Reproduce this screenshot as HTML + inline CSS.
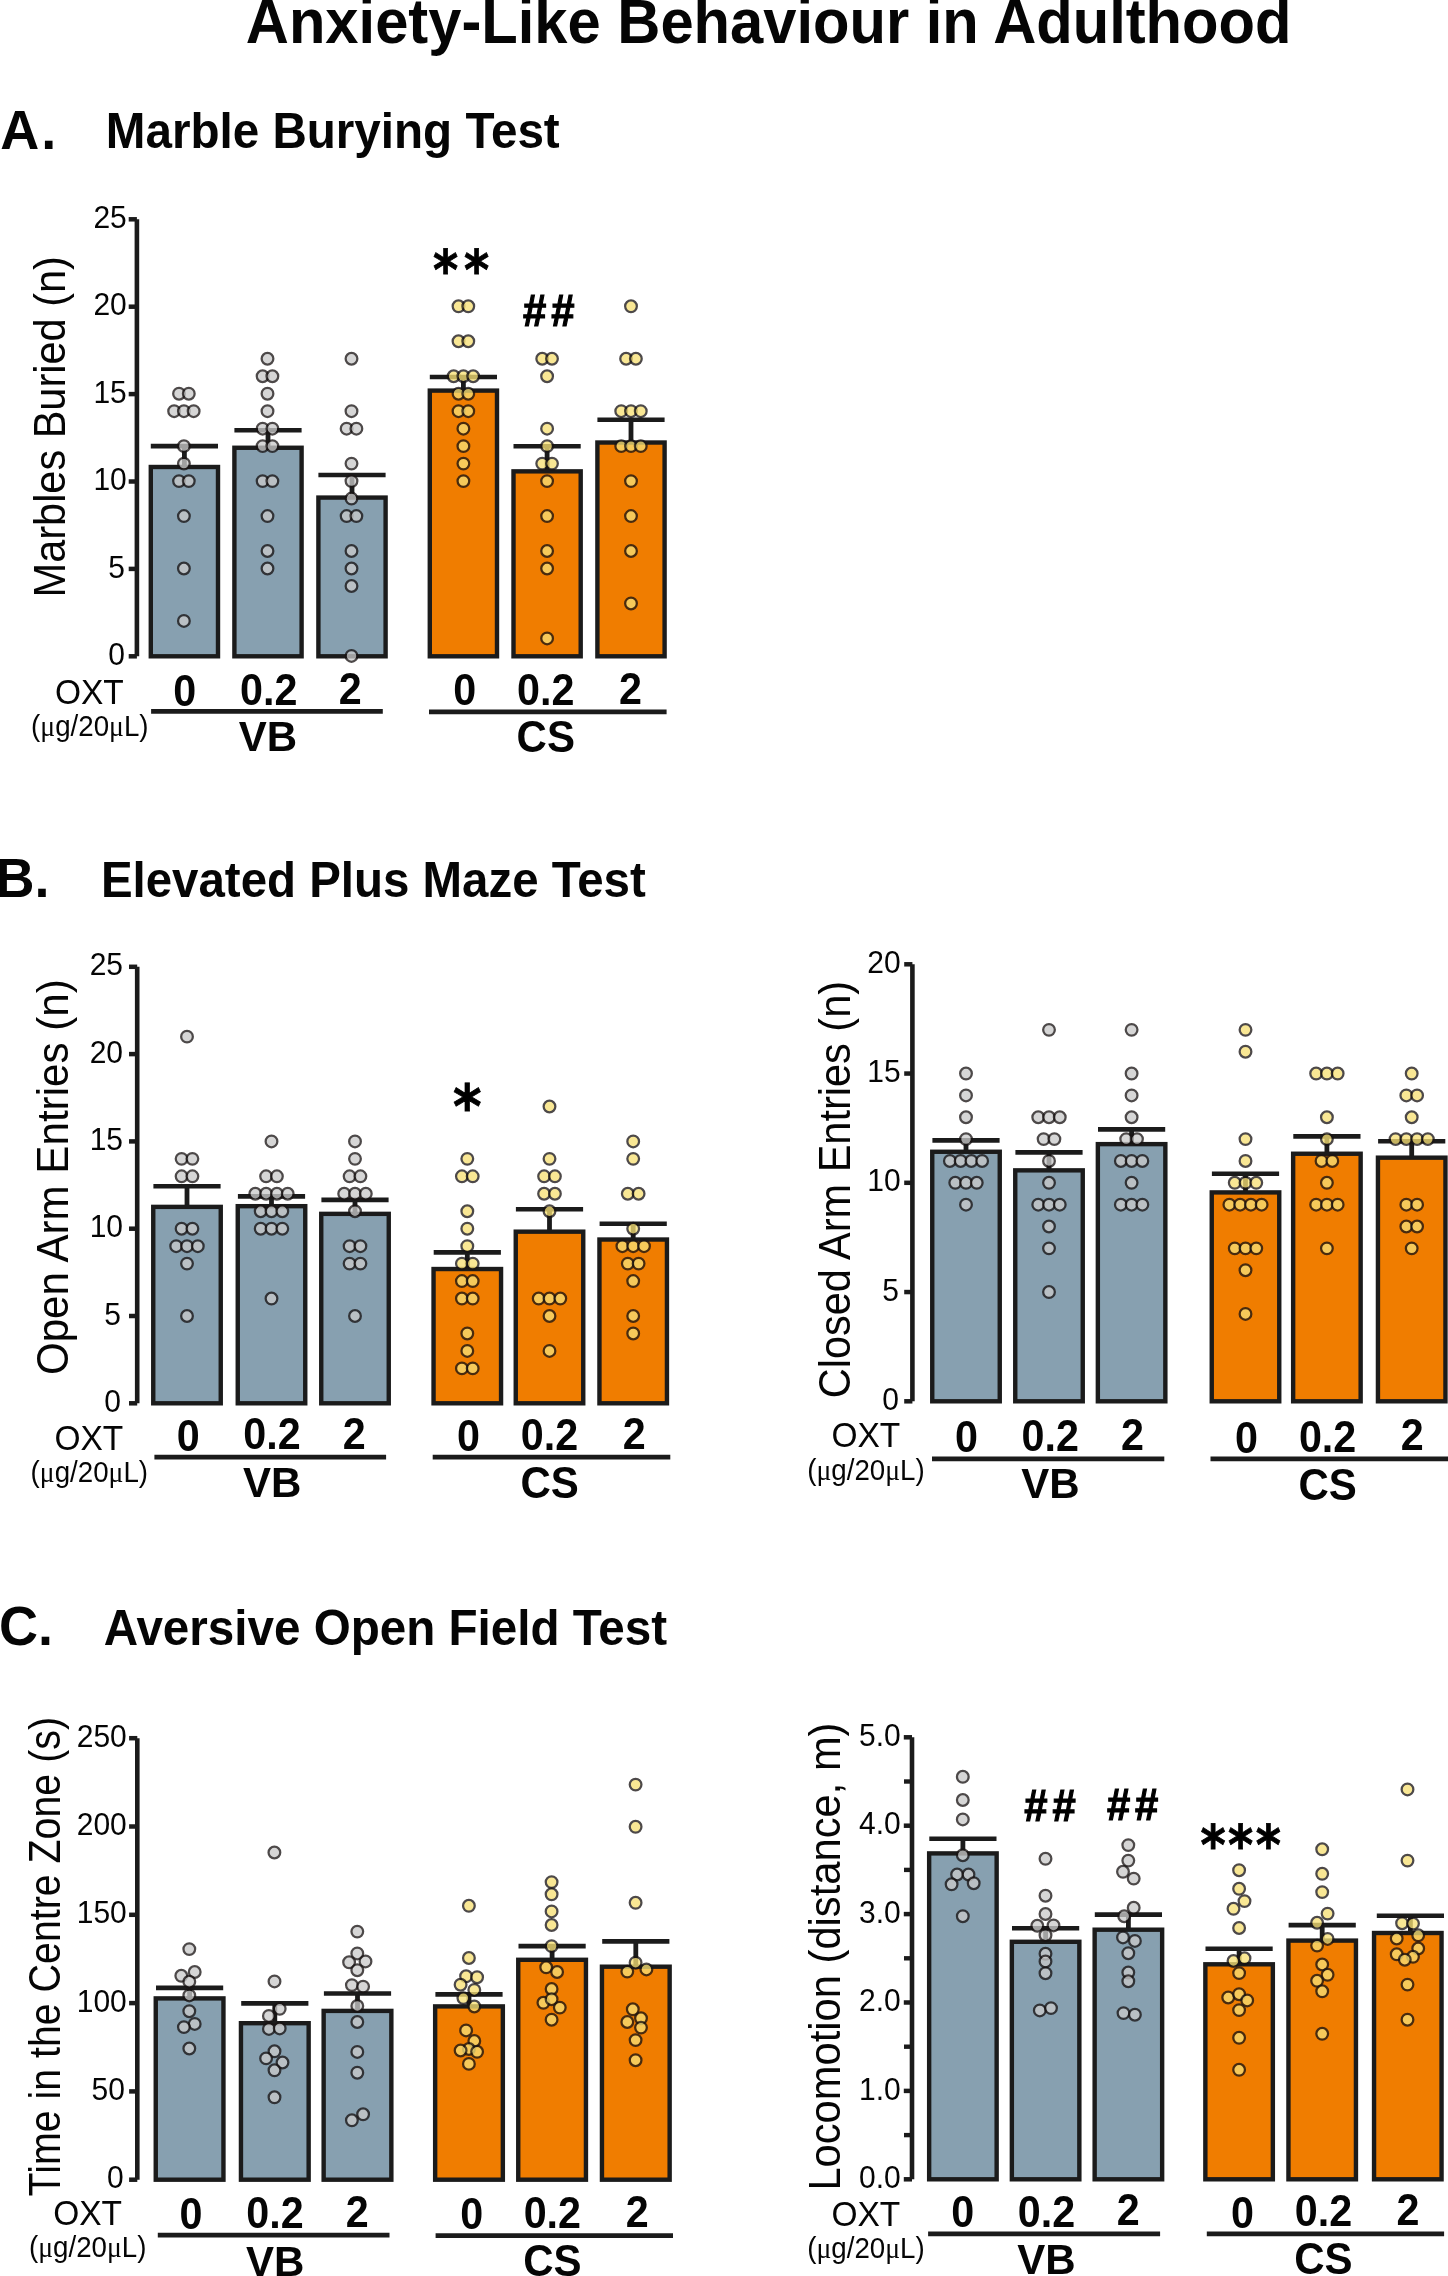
<!DOCTYPE html>
<html lang="en"><head><meta charset="utf-8"><title>Anxiety-Like Behaviour in Adulthood</title>
<style>html,body{margin:0;padding:0;background:#fff}svg{display:block}</style></head>
<body>
<svg width="1448" height="2276" viewBox="0 0 1448 2276" role="img" aria-label="Anxiety-Like Behaviour in Adulthood" style="will-change:transform">
<rect width="1448" height="2276" fill="#ffffff"/>
<text transform="translate(245.80,42.80) scale(1.0,1.04)" font-family="'Liberation Sans', sans-serif" font-size="59.7" font-weight="bold" text-anchor="start" fill="#050505">Anxiety-Like Behaviour in Adulthood</text>
<text transform="translate(0.30,148.60) scale(1.0,1.04)" font-family="'Liberation Sans', sans-serif" font-size="54" font-weight="bold" text-anchor="start" fill="#050505" letter-spacing="2">A.</text>
<text transform="translate(105.80,148.40) scale(1.0,1.04)" font-family="'Liberation Sans', sans-serif" font-size="47.6" font-weight="bold" text-anchor="start" fill="#050505">Marble Burying Test</text>
<text transform="translate(-4.60,896.90) scale(1.0,1.04)" font-family="'Liberation Sans', sans-serif" font-size="54" font-weight="bold" text-anchor="start" fill="#050505">B.</text>
<text transform="translate(100.90,896.90) scale(1.0,1.04)" font-family="'Liberation Sans', sans-serif" font-size="47.45" font-weight="bold" text-anchor="start" fill="#050505">Elevated Plus Maze Test</text>
<text transform="translate(-1.10,1645.00) scale(1.0,1.04)" font-family="'Liberation Sans', sans-serif" font-size="54" font-weight="bold" text-anchor="start" fill="#050505">C.</text>
<text transform="translate(103.80,1645.00) scale(1.0,1.04)" font-family="'Liberation Sans', sans-serif" font-size="47.6" font-weight="bold" text-anchor="start" fill="#050505">Aversive Open Field Test</text>
<text transform="translate(65.30,597.40) rotate(-90) scale(1.0,1.07)" font-family="'Liberation Sans', sans-serif" font-size="41.5" font-weight="normal" text-anchor="start" fill="#050505">Marbles Buried (n)</text>
<line x1="128.70" y1="656.30" x2="136.90" y2="656.30" stroke="#1b1b1b" stroke-width="4.5" stroke-linecap="butt"/>
<text transform="translate(125.05,664.90) scale(1.0,1.06)" font-family="'Liberation Sans', sans-serif" font-size="30" font-weight="normal" text-anchor="end" fill="#050505">0</text>
<line x1="128.70" y1="568.90" x2="136.90" y2="568.90" stroke="#1b1b1b" stroke-width="4.5" stroke-linecap="butt"/>
<text transform="translate(125.05,577.50) scale(1.0,1.06)" font-family="'Liberation Sans', sans-serif" font-size="30" font-weight="normal" text-anchor="end" fill="#050505">5</text>
<line x1="128.70" y1="481.50" x2="136.90" y2="481.50" stroke="#1b1b1b" stroke-width="4.5" stroke-linecap="butt"/>
<text transform="translate(126.80,490.10) scale(1.0,1.06)" font-family="'Liberation Sans', sans-serif" font-size="30" font-weight="normal" text-anchor="end" fill="#050505">10</text>
<line x1="128.70" y1="394.10" x2="136.90" y2="394.10" stroke="#1b1b1b" stroke-width="4.5" stroke-linecap="butt"/>
<text transform="translate(126.80,402.70) scale(1.0,1.06)" font-family="'Liberation Sans', sans-serif" font-size="30" font-weight="normal" text-anchor="end" fill="#050505">15</text>
<line x1="128.70" y1="306.70" x2="136.90" y2="306.70" stroke="#1b1b1b" stroke-width="4.5" stroke-linecap="butt"/>
<text transform="translate(126.80,315.30) scale(1.0,1.06)" font-family="'Liberation Sans', sans-serif" font-size="30" font-weight="normal" text-anchor="end" fill="#050505">20</text>
<line x1="128.70" y1="219.30" x2="136.90" y2="219.30" stroke="#1b1b1b" stroke-width="4.5" stroke-linecap="butt"/>
<text transform="translate(126.80,227.90) scale(1.0,1.06)" font-family="'Liberation Sans', sans-serif" font-size="30" font-weight="normal" text-anchor="end" fill="#050505">25</text>
<line x1="136.90" y1="219.30" x2="136.90" y2="656.30" stroke="#1b1b1b" stroke-width="4.6" stroke-linecap="butt"/>
<line x1="184.40" y1="446.10" x2="184.40" y2="466.99" stroke="#1b1b1b" stroke-width="4.8" stroke-linecap="butt"/>
<line x1="150.80" y1="446.10" x2="218.00" y2="446.10" stroke="#1b1b1b" stroke-width="4.6" stroke-linecap="butt"/>
<rect x="150.80" y="466.99" width="67.20" height="189.31" fill="#87a0b0" stroke="#1b1b1b" stroke-width="4.4"/>
<line x1="268.00" y1="430.30" x2="268.00" y2="447.76" stroke="#1b1b1b" stroke-width="4.8" stroke-linecap="butt"/>
<line x1="234.40" y1="430.30" x2="301.60" y2="430.30" stroke="#1b1b1b" stroke-width="4.6" stroke-linecap="butt"/>
<rect x="234.40" y="447.76" width="67.20" height="208.54" fill="#87a0b0" stroke="#1b1b1b" stroke-width="4.4"/>
<line x1="352.00" y1="475.00" x2="352.00" y2="497.58" stroke="#1b1b1b" stroke-width="4.8" stroke-linecap="butt"/>
<line x1="318.40" y1="475.00" x2="385.60" y2="475.00" stroke="#1b1b1b" stroke-width="4.6" stroke-linecap="butt"/>
<rect x="318.40" y="497.58" width="67.20" height="158.72" fill="#87a0b0" stroke="#1b1b1b" stroke-width="4.4"/>
<line x1="463.40" y1="377.00" x2="463.40" y2="390.60" stroke="#1b1b1b" stroke-width="4.8" stroke-linecap="butt"/>
<line x1="429.80" y1="377.00" x2="497.00" y2="377.00" stroke="#1b1b1b" stroke-width="4.6" stroke-linecap="butt"/>
<rect x="429.80" y="390.60" width="67.20" height="265.70" fill="#f07d00" stroke="#1b1b1b" stroke-width="4.4"/>
<line x1="547.10" y1="446.30" x2="547.10" y2="471.36" stroke="#1b1b1b" stroke-width="4.8" stroke-linecap="butt"/>
<line x1="513.50" y1="446.30" x2="580.70" y2="446.30" stroke="#1b1b1b" stroke-width="4.6" stroke-linecap="butt"/>
<rect x="513.50" y="471.36" width="67.20" height="184.94" fill="#f07d00" stroke="#1b1b1b" stroke-width="4.4"/>
<line x1="631.00" y1="419.80" x2="631.00" y2="442.52" stroke="#1b1b1b" stroke-width="4.8" stroke-linecap="butt"/>
<line x1="597.40" y1="419.80" x2="664.60" y2="419.80" stroke="#1b1b1b" stroke-width="4.6" stroke-linecap="butt"/>
<rect x="597.40" y="442.52" width="67.20" height="213.78" fill="#f07d00" stroke="#1b1b1b" stroke-width="4.4"/>
<circle cx="179.03" cy="393.70" r="5.85" fill="rgb(202,202,202)" stroke="#181313" stroke-width="2.25" opacity="0.77"/>
<circle cx="188.78" cy="393.70" r="5.85" fill="rgb(202,202,202)" stroke="#181313" stroke-width="2.25" opacity="0.77"/>
<circle cx="174.15" cy="411.18" r="5.85" fill="rgb(202,202,202)" stroke="#181313" stroke-width="2.25" opacity="0.77"/>
<circle cx="183.90" cy="411.18" r="5.85" fill="rgb(202,202,202)" stroke="#181313" stroke-width="2.25" opacity="0.77"/>
<circle cx="193.65" cy="411.18" r="5.85" fill="rgb(202,202,202)" stroke="#181313" stroke-width="2.25" opacity="0.77"/>
<circle cx="183.90" cy="446.14" r="5.85" fill="rgb(202,202,202)" stroke="#181313" stroke-width="2.25" opacity="0.77"/>
<circle cx="183.90" cy="463.62" r="5.85" fill="rgb(202,202,202)" stroke="#181313" stroke-width="2.25" opacity="0.77"/>
<circle cx="179.03" cy="481.10" r="5.85" fill="rgb(202,202,202)" stroke="#181313" stroke-width="2.25" opacity="0.77"/>
<circle cx="188.78" cy="481.10" r="5.85" fill="rgb(202,202,202)" stroke="#181313" stroke-width="2.25" opacity="0.77"/>
<circle cx="183.90" cy="516.06" r="5.85" fill="rgb(202,202,202)" stroke="#181313" stroke-width="2.25" opacity="0.77"/>
<circle cx="183.90" cy="568.50" r="5.85" fill="rgb(202,202,202)" stroke="#181313" stroke-width="2.25" opacity="0.77"/>
<circle cx="183.90" cy="620.94" r="5.85" fill="rgb(202,202,202)" stroke="#181313" stroke-width="2.25" opacity="0.77"/>
<circle cx="267.50" cy="358.74" r="5.85" fill="rgb(202,202,202)" stroke="#181313" stroke-width="2.25" opacity="0.77"/>
<circle cx="262.62" cy="376.22" r="5.85" fill="rgb(202,202,202)" stroke="#181313" stroke-width="2.25" opacity="0.77"/>
<circle cx="272.38" cy="376.22" r="5.85" fill="rgb(202,202,202)" stroke="#181313" stroke-width="2.25" opacity="0.77"/>
<circle cx="267.50" cy="393.70" r="5.85" fill="rgb(202,202,202)" stroke="#181313" stroke-width="2.25" opacity="0.77"/>
<circle cx="267.50" cy="411.18" r="5.85" fill="rgb(202,202,202)" stroke="#181313" stroke-width="2.25" opacity="0.77"/>
<circle cx="262.62" cy="428.66" r="5.85" fill="rgb(202,202,202)" stroke="#181313" stroke-width="2.25" opacity="0.77"/>
<circle cx="272.38" cy="428.66" r="5.85" fill="rgb(202,202,202)" stroke="#181313" stroke-width="2.25" opacity="0.77"/>
<circle cx="262.62" cy="446.14" r="5.85" fill="rgb(202,202,202)" stroke="#181313" stroke-width="2.25" opacity="0.77"/>
<circle cx="272.38" cy="446.14" r="5.85" fill="rgb(202,202,202)" stroke="#181313" stroke-width="2.25" opacity="0.77"/>
<circle cx="262.62" cy="481.10" r="5.85" fill="rgb(202,202,202)" stroke="#181313" stroke-width="2.25" opacity="0.77"/>
<circle cx="272.38" cy="481.10" r="5.85" fill="rgb(202,202,202)" stroke="#181313" stroke-width="2.25" opacity="0.77"/>
<circle cx="267.50" cy="516.06" r="5.85" fill="rgb(202,202,202)" stroke="#181313" stroke-width="2.25" opacity="0.77"/>
<circle cx="267.50" cy="551.02" r="5.85" fill="rgb(202,202,202)" stroke="#181313" stroke-width="2.25" opacity="0.77"/>
<circle cx="267.50" cy="568.50" r="5.85" fill="rgb(202,202,202)" stroke="#181313" stroke-width="2.25" opacity="0.77"/>
<circle cx="351.50" cy="358.74" r="5.85" fill="rgb(202,202,202)" stroke="#181313" stroke-width="2.25" opacity="0.77"/>
<circle cx="351.50" cy="411.18" r="5.85" fill="rgb(202,202,202)" stroke="#181313" stroke-width="2.25" opacity="0.77"/>
<circle cx="346.62" cy="428.66" r="5.85" fill="rgb(202,202,202)" stroke="#181313" stroke-width="2.25" opacity="0.77"/>
<circle cx="356.38" cy="428.66" r="5.85" fill="rgb(202,202,202)" stroke="#181313" stroke-width="2.25" opacity="0.77"/>
<circle cx="351.50" cy="463.62" r="5.85" fill="rgb(202,202,202)" stroke="#181313" stroke-width="2.25" opacity="0.77"/>
<circle cx="351.50" cy="481.10" r="5.85" fill="rgb(202,202,202)" stroke="#181313" stroke-width="2.25" opacity="0.77"/>
<circle cx="351.50" cy="498.58" r="5.85" fill="rgb(202,202,202)" stroke="#181313" stroke-width="2.25" opacity="0.77"/>
<circle cx="346.62" cy="516.06" r="5.85" fill="rgb(202,202,202)" stroke="#181313" stroke-width="2.25" opacity="0.77"/>
<circle cx="356.38" cy="516.06" r="5.85" fill="rgb(202,202,202)" stroke="#181313" stroke-width="2.25" opacity="0.77"/>
<circle cx="351.50" cy="551.02" r="5.85" fill="rgb(202,202,202)" stroke="#181313" stroke-width="2.25" opacity="0.77"/>
<circle cx="351.50" cy="568.50" r="5.85" fill="rgb(202,202,202)" stroke="#181313" stroke-width="2.25" opacity="0.77"/>
<circle cx="351.50" cy="585.98" r="5.85" fill="rgb(202,202,202)" stroke="#181313" stroke-width="2.25" opacity="0.77"/>
<circle cx="351.50" cy="655.90" r="5.85" fill="rgb(202,202,202)" stroke="#181313" stroke-width="2.25" opacity="0.77"/>
<circle cx="458.52" cy="306.30" r="5.85" fill="rgb(248,225,117)" stroke="#181313" stroke-width="2.25" opacity="0.77"/>
<circle cx="468.27" cy="306.30" r="5.85" fill="rgb(248,225,117)" stroke="#181313" stroke-width="2.25" opacity="0.77"/>
<circle cx="458.52" cy="341.26" r="5.85" fill="rgb(248,225,117)" stroke="#181313" stroke-width="2.25" opacity="0.77"/>
<circle cx="468.27" cy="341.26" r="5.85" fill="rgb(248,225,117)" stroke="#181313" stroke-width="2.25" opacity="0.77"/>
<circle cx="453.65" cy="376.22" r="5.85" fill="rgb(248,225,117)" stroke="#181313" stroke-width="2.25" opacity="0.77"/>
<circle cx="463.40" cy="376.22" r="5.85" fill="rgb(248,225,117)" stroke="#181313" stroke-width="2.25" opacity="0.77"/>
<circle cx="473.15" cy="376.22" r="5.85" fill="rgb(248,225,117)" stroke="#181313" stroke-width="2.25" opacity="0.77"/>
<circle cx="458.52" cy="393.70" r="5.85" fill="rgb(248,225,117)" stroke="#181313" stroke-width="2.25" opacity="0.77"/>
<circle cx="468.27" cy="393.70" r="5.85" fill="rgb(248,225,117)" stroke="#181313" stroke-width="2.25" opacity="0.77"/>
<circle cx="458.52" cy="411.18" r="5.85" fill="rgb(248,225,117)" stroke="#181313" stroke-width="2.25" opacity="0.77"/>
<circle cx="468.27" cy="411.18" r="5.85" fill="rgb(248,225,117)" stroke="#181313" stroke-width="2.25" opacity="0.77"/>
<circle cx="463.40" cy="428.66" r="5.85" fill="rgb(248,225,117)" stroke="#181313" stroke-width="2.25" opacity="0.77"/>
<circle cx="463.40" cy="446.14" r="5.85" fill="rgb(248,225,117)" stroke="#181313" stroke-width="2.25" opacity="0.77"/>
<circle cx="463.40" cy="463.62" r="5.85" fill="rgb(248,225,117)" stroke="#181313" stroke-width="2.25" opacity="0.77"/>
<circle cx="463.40" cy="481.10" r="5.85" fill="rgb(248,225,117)" stroke="#181313" stroke-width="2.25" opacity="0.77"/>
<circle cx="542.23" cy="358.74" r="5.85" fill="rgb(248,225,117)" stroke="#181313" stroke-width="2.25" opacity="0.77"/>
<circle cx="551.98" cy="358.74" r="5.85" fill="rgb(248,225,117)" stroke="#181313" stroke-width="2.25" opacity="0.77"/>
<circle cx="547.10" cy="376.22" r="5.85" fill="rgb(248,225,117)" stroke="#181313" stroke-width="2.25" opacity="0.77"/>
<circle cx="547.10" cy="428.66" r="5.85" fill="rgb(248,225,117)" stroke="#181313" stroke-width="2.25" opacity="0.77"/>
<circle cx="547.10" cy="446.14" r="5.85" fill="rgb(248,225,117)" stroke="#181313" stroke-width="2.25" opacity="0.77"/>
<circle cx="542.23" cy="463.62" r="5.85" fill="rgb(248,225,117)" stroke="#181313" stroke-width="2.25" opacity="0.77"/>
<circle cx="551.98" cy="463.62" r="5.85" fill="rgb(248,225,117)" stroke="#181313" stroke-width="2.25" opacity="0.77"/>
<circle cx="547.10" cy="481.10" r="5.85" fill="rgb(248,225,117)" stroke="#181313" stroke-width="2.25" opacity="0.77"/>
<circle cx="547.10" cy="516.06" r="5.85" fill="rgb(248,225,117)" stroke="#181313" stroke-width="2.25" opacity="0.77"/>
<circle cx="547.10" cy="551.02" r="5.85" fill="rgb(248,225,117)" stroke="#181313" stroke-width="2.25" opacity="0.77"/>
<circle cx="547.10" cy="568.50" r="5.85" fill="rgb(248,225,117)" stroke="#181313" stroke-width="2.25" opacity="0.77"/>
<circle cx="547.10" cy="638.42" r="5.85" fill="rgb(248,225,117)" stroke="#181313" stroke-width="2.25" opacity="0.77"/>
<circle cx="631.00" cy="306.30" r="5.85" fill="rgb(248,225,117)" stroke="#181313" stroke-width="2.25" opacity="0.77"/>
<circle cx="626.12" cy="358.74" r="5.85" fill="rgb(248,225,117)" stroke="#181313" stroke-width="2.25" opacity="0.77"/>
<circle cx="635.88" cy="358.74" r="5.85" fill="rgb(248,225,117)" stroke="#181313" stroke-width="2.25" opacity="0.77"/>
<circle cx="621.25" cy="411.18" r="5.85" fill="rgb(248,225,117)" stroke="#181313" stroke-width="2.25" opacity="0.77"/>
<circle cx="631.00" cy="411.18" r="5.85" fill="rgb(248,225,117)" stroke="#181313" stroke-width="2.25" opacity="0.77"/>
<circle cx="640.75" cy="411.18" r="5.85" fill="rgb(248,225,117)" stroke="#181313" stroke-width="2.25" opacity="0.77"/>
<circle cx="621.25" cy="446.14" r="5.85" fill="rgb(248,225,117)" stroke="#181313" stroke-width="2.25" opacity="0.77"/>
<circle cx="631.00" cy="446.14" r="5.85" fill="rgb(248,225,117)" stroke="#181313" stroke-width="2.25" opacity="0.77"/>
<circle cx="640.75" cy="446.14" r="5.85" fill="rgb(248,225,117)" stroke="#181313" stroke-width="2.25" opacity="0.77"/>
<circle cx="631.00" cy="481.10" r="5.85" fill="rgb(248,225,117)" stroke="#181313" stroke-width="2.25" opacity="0.77"/>
<circle cx="631.00" cy="516.06" r="5.85" fill="rgb(248,225,117)" stroke="#181313" stroke-width="2.25" opacity="0.77"/>
<circle cx="631.00" cy="551.02" r="5.85" fill="rgb(248,225,117)" stroke="#181313" stroke-width="2.25" opacity="0.77"/>
<circle cx="631.00" cy="603.46" r="5.85" fill="rgb(248,225,117)" stroke="#181313" stroke-width="2.25" opacity="0.77"/>
<text transform="translate(55.00,703.80) scale(1.0,1.04)" font-family="'Liberation Sans', sans-serif" font-size="33.5" font-weight="normal" text-anchor="start" fill="#050505">OXT</text>
<text transform="translate(31.10,735.90) scale(1.0,1.04)" font-family="'Liberation Sans', sans-serif" font-size="27.7" font-weight="normal" text-anchor="start" fill="#050505">(<tspan font-family="'Liberation Serif', serif">μ</tspan>g/20<tspan font-family="'Liberation Serif', serif">μ</tspan>L)</text>
<text transform="translate(184.70,705.80) scale(1.0,1.075)" font-family="'Liberation Sans', sans-serif" font-size="41.3" font-weight="bold" text-anchor="middle" fill="#050505">0</text>
<text transform="translate(268.70,704.90) scale(1.0,1.075)" font-family="'Liberation Sans', sans-serif" font-size="41.3" font-weight="bold" text-anchor="middle" fill="#050505">0.2</text>
<text transform="translate(350.35,703.60) scale(1.0,1.075)" font-family="'Liberation Sans', sans-serif" font-size="41.3" font-weight="bold" text-anchor="middle" fill="#050505">2</text>
<text transform="translate(464.75,705.20) scale(1.0,1.075)" font-family="'Liberation Sans', sans-serif" font-size="41.3" font-weight="bold" text-anchor="middle" fill="#050505">0</text>
<text transform="translate(545.75,704.50) scale(1.0,1.075)" font-family="'Liberation Sans', sans-serif" font-size="41.3" font-weight="bold" text-anchor="middle" fill="#050505">0.2</text>
<text transform="translate(630.55,703.50) scale(1.0,1.075)" font-family="'Liberation Sans', sans-serif" font-size="41.3" font-weight="bold" text-anchor="middle" fill="#050505">2</text>
<line x1="151.10" y1="711.40" x2="382.80" y2="711.40" stroke="#1b1b1b" stroke-width="4.8" stroke-linecap="butt"/>
<line x1="429.00" y1="711.80" x2="666.60" y2="711.80" stroke="#1b1b1b" stroke-width="4.8" stroke-linecap="butt"/>
<text transform="translate(267.80,751.30)" font-family="'Liberation Sans', sans-serif" font-size="42" font-weight="bold" text-anchor="middle" fill="#050505">VB</text>
<text transform="translate(545.75,752.00) scale(1.0,1.05)" font-family="'Liberation Sans', sans-serif" font-size="42" font-weight="bold" text-anchor="middle" fill="#050505">CS</text>
<text transform="translate(432.90,289.10) scale(0.886,1.0)" font-family="'DejaVu Sans', sans-serif" font-size="54.4" font-weight="bold" text-anchor="start" fill="#000" letter-spacing="6.76" stroke="#000" stroke-width="0.8" stroke-linejoin="miter">**</text>
<text transform="translate(523.10,325.50) scale(0.94,1.0)" font-family="'Liberation Sans', sans-serif" font-size="44.5" font-weight="bold" text-anchor="start" fill="#000" letter-spacing="5.2" stroke="#000" stroke-width="1.2" stroke-linejoin="miter">##</text>
<text transform="translate(68.10,1375.10) rotate(-90) scale(1.016,1.07)" font-family="'Liberation Sans', sans-serif" font-size="41.5" font-weight="normal" text-anchor="start" fill="#050505">Open Arm Entries (n)</text>
<line x1="129.00" y1="1403.30" x2="137.20" y2="1403.30" stroke="#1b1b1b" stroke-width="4.5" stroke-linecap="butt"/>
<text transform="translate(121.05,1411.90) scale(1.0,1.06)" font-family="'Liberation Sans', sans-serif" font-size="30" font-weight="normal" text-anchor="end" fill="#050505">0</text>
<line x1="129.00" y1="1316.00" x2="137.20" y2="1316.00" stroke="#1b1b1b" stroke-width="4.5" stroke-linecap="butt"/>
<text transform="translate(121.05,1324.60) scale(1.0,1.06)" font-family="'Liberation Sans', sans-serif" font-size="30" font-weight="normal" text-anchor="end" fill="#050505">5</text>
<line x1="129.00" y1="1228.70" x2="137.20" y2="1228.70" stroke="#1b1b1b" stroke-width="4.5" stroke-linecap="butt"/>
<text transform="translate(123.05,1237.30) scale(1.0,1.06)" font-family="'Liberation Sans', sans-serif" font-size="30" font-weight="normal" text-anchor="end" fill="#050505">10</text>
<line x1="129.00" y1="1141.40" x2="137.20" y2="1141.40" stroke="#1b1b1b" stroke-width="4.5" stroke-linecap="butt"/>
<text transform="translate(123.05,1150.00) scale(1.0,1.06)" font-family="'Liberation Sans', sans-serif" font-size="30" font-weight="normal" text-anchor="end" fill="#050505">15</text>
<line x1="129.00" y1="1054.10" x2="137.20" y2="1054.10" stroke="#1b1b1b" stroke-width="4.5" stroke-linecap="butt"/>
<text transform="translate(123.05,1062.70) scale(1.0,1.06)" font-family="'Liberation Sans', sans-serif" font-size="30" font-weight="normal" text-anchor="end" fill="#050505">20</text>
<line x1="129.00" y1="966.80" x2="137.20" y2="966.80" stroke="#1b1b1b" stroke-width="4.5" stroke-linecap="butt"/>
<text transform="translate(123.05,975.40) scale(1.0,1.06)" font-family="'Liberation Sans', sans-serif" font-size="30" font-weight="normal" text-anchor="end" fill="#050505">25</text>
<line x1="137.20" y1="966.80" x2="137.20" y2="1403.30" stroke="#1b1b1b" stroke-width="4.6" stroke-linecap="butt"/>
<line x1="187.00" y1="1186.20" x2="187.00" y2="1206.88" stroke="#1b1b1b" stroke-width="4.8" stroke-linecap="butt"/>
<line x1="153.40" y1="1186.20" x2="220.60" y2="1186.20" stroke="#1b1b1b" stroke-width="4.6" stroke-linecap="butt"/>
<rect x="153.25" y="1206.88" width="67.50" height="196.42" fill="#87a0b0" stroke="#1b1b1b" stroke-width="4.4"/>
<line x1="271.50" y1="1196.40" x2="271.50" y2="1206.18" stroke="#1b1b1b" stroke-width="4.8" stroke-linecap="butt"/>
<line x1="237.90" y1="1196.40" x2="305.10" y2="1196.40" stroke="#1b1b1b" stroke-width="4.6" stroke-linecap="butt"/>
<rect x="237.75" y="1206.18" width="67.50" height="197.12" fill="#87a0b0" stroke="#1b1b1b" stroke-width="4.4"/>
<line x1="355.00" y1="1199.90" x2="355.00" y2="1213.86" stroke="#1b1b1b" stroke-width="4.8" stroke-linecap="butt"/>
<line x1="321.40" y1="1199.90" x2="388.60" y2="1199.90" stroke="#1b1b1b" stroke-width="4.6" stroke-linecap="butt"/>
<rect x="321.25" y="1213.86" width="67.50" height="189.44" fill="#87a0b0" stroke="#1b1b1b" stroke-width="4.4"/>
<line x1="467.30" y1="1252.40" x2="467.30" y2="1269.03" stroke="#1b1b1b" stroke-width="4.8" stroke-linecap="butt"/>
<line x1="433.70" y1="1252.40" x2="500.90" y2="1252.40" stroke="#1b1b1b" stroke-width="4.6" stroke-linecap="butt"/>
<rect x="433.55" y="1269.03" width="67.50" height="134.27" fill="#f07d00" stroke="#1b1b1b" stroke-width="4.4"/>
<line x1="549.50" y1="1209.30" x2="549.50" y2="1231.67" stroke="#1b1b1b" stroke-width="4.8" stroke-linecap="butt"/>
<line x1="515.90" y1="1209.30" x2="583.10" y2="1209.30" stroke="#1b1b1b" stroke-width="4.6" stroke-linecap="butt"/>
<rect x="515.75" y="1231.67" width="67.50" height="171.63" fill="#f07d00" stroke="#1b1b1b" stroke-width="4.4"/>
<line x1="633.20" y1="1223.80" x2="633.20" y2="1239.53" stroke="#1b1b1b" stroke-width="4.8" stroke-linecap="butt"/>
<line x1="599.60" y1="1223.80" x2="666.80" y2="1223.80" stroke="#1b1b1b" stroke-width="4.6" stroke-linecap="butt"/>
<rect x="599.45" y="1239.53" width="67.50" height="163.77" fill="#f07d00" stroke="#1b1b1b" stroke-width="4.4"/>
<circle cx="187.00" cy="1036.64" r="5.85" fill="rgb(202,202,202)" stroke="#181313" stroke-width="2.25" opacity="0.77"/>
<circle cx="181.60" cy="1158.86" r="5.85" fill="rgb(202,202,202)" stroke="#181313" stroke-width="2.25" opacity="0.77"/>
<circle cx="192.40" cy="1158.86" r="5.85" fill="rgb(202,202,202)" stroke="#181313" stroke-width="2.25" opacity="0.77"/>
<circle cx="181.60" cy="1176.32" r="5.85" fill="rgb(202,202,202)" stroke="#181313" stroke-width="2.25" opacity="0.77"/>
<circle cx="192.40" cy="1176.32" r="5.85" fill="rgb(202,202,202)" stroke="#181313" stroke-width="2.25" opacity="0.77"/>
<circle cx="181.60" cy="1228.70" r="5.85" fill="rgb(202,202,202)" stroke="#181313" stroke-width="2.25" opacity="0.77"/>
<circle cx="192.40" cy="1228.70" r="5.85" fill="rgb(202,202,202)" stroke="#181313" stroke-width="2.25" opacity="0.77"/>
<circle cx="176.20" cy="1246.16" r="5.85" fill="rgb(202,202,202)" stroke="#181313" stroke-width="2.25" opacity="0.77"/>
<circle cx="187.00" cy="1246.16" r="5.85" fill="rgb(202,202,202)" stroke="#181313" stroke-width="2.25" opacity="0.77"/>
<circle cx="197.80" cy="1246.16" r="5.85" fill="rgb(202,202,202)" stroke="#181313" stroke-width="2.25" opacity="0.77"/>
<circle cx="187.00" cy="1263.62" r="5.85" fill="rgb(202,202,202)" stroke="#181313" stroke-width="2.25" opacity="0.77"/>
<circle cx="187.00" cy="1316.00" r="5.85" fill="rgb(202,202,202)" stroke="#181313" stroke-width="2.25" opacity="0.77"/>
<circle cx="271.50" cy="1141.40" r="5.85" fill="rgb(202,202,202)" stroke="#181313" stroke-width="2.25" opacity="0.77"/>
<circle cx="266.10" cy="1176.32" r="5.85" fill="rgb(202,202,202)" stroke="#181313" stroke-width="2.25" opacity="0.77"/>
<circle cx="276.90" cy="1176.32" r="5.85" fill="rgb(202,202,202)" stroke="#181313" stroke-width="2.25" opacity="0.77"/>
<circle cx="255.30" cy="1193.78" r="5.85" fill="rgb(202,202,202)" stroke="#181313" stroke-width="2.25" opacity="0.77"/>
<circle cx="266.10" cy="1193.78" r="5.85" fill="rgb(202,202,202)" stroke="#181313" stroke-width="2.25" opacity="0.77"/>
<circle cx="276.90" cy="1193.78" r="5.85" fill="rgb(202,202,202)" stroke="#181313" stroke-width="2.25" opacity="0.77"/>
<circle cx="287.70" cy="1193.78" r="5.85" fill="rgb(202,202,202)" stroke="#181313" stroke-width="2.25" opacity="0.77"/>
<circle cx="260.70" cy="1211.24" r="5.85" fill="rgb(202,202,202)" stroke="#181313" stroke-width="2.25" opacity="0.77"/>
<circle cx="271.50" cy="1211.24" r="5.85" fill="rgb(202,202,202)" stroke="#181313" stroke-width="2.25" opacity="0.77"/>
<circle cx="282.30" cy="1211.24" r="5.85" fill="rgb(202,202,202)" stroke="#181313" stroke-width="2.25" opacity="0.77"/>
<circle cx="260.70" cy="1228.70" r="5.85" fill="rgb(202,202,202)" stroke="#181313" stroke-width="2.25" opacity="0.77"/>
<circle cx="271.50" cy="1228.70" r="5.85" fill="rgb(202,202,202)" stroke="#181313" stroke-width="2.25" opacity="0.77"/>
<circle cx="282.30" cy="1228.70" r="5.85" fill="rgb(202,202,202)" stroke="#181313" stroke-width="2.25" opacity="0.77"/>
<circle cx="271.50" cy="1298.54" r="5.85" fill="rgb(202,202,202)" stroke="#181313" stroke-width="2.25" opacity="0.77"/>
<circle cx="355.00" cy="1141.40" r="5.85" fill="rgb(202,202,202)" stroke="#181313" stroke-width="2.25" opacity="0.77"/>
<circle cx="355.00" cy="1158.86" r="5.85" fill="rgb(202,202,202)" stroke="#181313" stroke-width="2.25" opacity="0.77"/>
<circle cx="349.60" cy="1176.32" r="5.85" fill="rgb(202,202,202)" stroke="#181313" stroke-width="2.25" opacity="0.77"/>
<circle cx="360.40" cy="1176.32" r="5.85" fill="rgb(202,202,202)" stroke="#181313" stroke-width="2.25" opacity="0.77"/>
<circle cx="344.20" cy="1193.78" r="5.85" fill="rgb(202,202,202)" stroke="#181313" stroke-width="2.25" opacity="0.77"/>
<circle cx="355.00" cy="1193.78" r="5.85" fill="rgb(202,202,202)" stroke="#181313" stroke-width="2.25" opacity="0.77"/>
<circle cx="365.80" cy="1193.78" r="5.85" fill="rgb(202,202,202)" stroke="#181313" stroke-width="2.25" opacity="0.77"/>
<circle cx="355.00" cy="1211.24" r="5.85" fill="rgb(202,202,202)" stroke="#181313" stroke-width="2.25" opacity="0.77"/>
<circle cx="349.60" cy="1246.16" r="5.85" fill="rgb(202,202,202)" stroke="#181313" stroke-width="2.25" opacity="0.77"/>
<circle cx="360.40" cy="1246.16" r="5.85" fill="rgb(202,202,202)" stroke="#181313" stroke-width="2.25" opacity="0.77"/>
<circle cx="349.60" cy="1263.62" r="5.85" fill="rgb(202,202,202)" stroke="#181313" stroke-width="2.25" opacity="0.77"/>
<circle cx="360.40" cy="1263.62" r="5.85" fill="rgb(202,202,202)" stroke="#181313" stroke-width="2.25" opacity="0.77"/>
<circle cx="355.00" cy="1316.00" r="5.85" fill="rgb(202,202,202)" stroke="#181313" stroke-width="2.25" opacity="0.77"/>
<circle cx="467.30" cy="1158.86" r="5.85" fill="rgb(248,225,117)" stroke="#181313" stroke-width="2.25" opacity="0.77"/>
<circle cx="461.90" cy="1176.32" r="5.85" fill="rgb(248,225,117)" stroke="#181313" stroke-width="2.25" opacity="0.77"/>
<circle cx="472.70" cy="1176.32" r="5.85" fill="rgb(248,225,117)" stroke="#181313" stroke-width="2.25" opacity="0.77"/>
<circle cx="467.30" cy="1211.24" r="5.85" fill="rgb(248,225,117)" stroke="#181313" stroke-width="2.25" opacity="0.77"/>
<circle cx="467.30" cy="1228.70" r="5.85" fill="rgb(248,225,117)" stroke="#181313" stroke-width="2.25" opacity="0.77"/>
<circle cx="467.30" cy="1246.16" r="5.85" fill="rgb(248,225,117)" stroke="#181313" stroke-width="2.25" opacity="0.77"/>
<circle cx="461.90" cy="1263.62" r="5.85" fill="rgb(248,225,117)" stroke="#181313" stroke-width="2.25" opacity="0.77"/>
<circle cx="472.70" cy="1263.62" r="5.85" fill="rgb(248,225,117)" stroke="#181313" stroke-width="2.25" opacity="0.77"/>
<circle cx="461.90" cy="1281.08" r="5.85" fill="rgb(248,225,117)" stroke="#181313" stroke-width="2.25" opacity="0.77"/>
<circle cx="472.70" cy="1281.08" r="5.85" fill="rgb(248,225,117)" stroke="#181313" stroke-width="2.25" opacity="0.77"/>
<circle cx="461.90" cy="1298.54" r="5.85" fill="rgb(248,225,117)" stroke="#181313" stroke-width="2.25" opacity="0.77"/>
<circle cx="472.70" cy="1298.54" r="5.85" fill="rgb(248,225,117)" stroke="#181313" stroke-width="2.25" opacity="0.77"/>
<circle cx="467.30" cy="1333.46" r="5.85" fill="rgb(248,225,117)" stroke="#181313" stroke-width="2.25" opacity="0.77"/>
<circle cx="467.30" cy="1350.92" r="5.85" fill="rgb(248,225,117)" stroke="#181313" stroke-width="2.25" opacity="0.77"/>
<circle cx="461.90" cy="1368.38" r="5.85" fill="rgb(248,225,117)" stroke="#181313" stroke-width="2.25" opacity="0.77"/>
<circle cx="472.70" cy="1368.38" r="5.85" fill="rgb(248,225,117)" stroke="#181313" stroke-width="2.25" opacity="0.77"/>
<circle cx="549.50" cy="1106.48" r="5.85" fill="rgb(248,225,117)" stroke="#181313" stroke-width="2.25" opacity="0.77"/>
<circle cx="549.50" cy="1158.86" r="5.85" fill="rgb(248,225,117)" stroke="#181313" stroke-width="2.25" opacity="0.77"/>
<circle cx="544.10" cy="1176.32" r="5.85" fill="rgb(248,225,117)" stroke="#181313" stroke-width="2.25" opacity="0.77"/>
<circle cx="554.90" cy="1176.32" r="5.85" fill="rgb(248,225,117)" stroke="#181313" stroke-width="2.25" opacity="0.77"/>
<circle cx="544.10" cy="1193.78" r="5.85" fill="rgb(248,225,117)" stroke="#181313" stroke-width="2.25" opacity="0.77"/>
<circle cx="554.90" cy="1193.78" r="5.85" fill="rgb(248,225,117)" stroke="#181313" stroke-width="2.25" opacity="0.77"/>
<circle cx="549.50" cy="1211.24" r="5.85" fill="rgb(248,225,117)" stroke="#181313" stroke-width="2.25" opacity="0.77"/>
<circle cx="538.70" cy="1298.54" r="5.85" fill="rgb(248,225,117)" stroke="#181313" stroke-width="2.25" opacity="0.77"/>
<circle cx="549.50" cy="1298.54" r="5.85" fill="rgb(248,225,117)" stroke="#181313" stroke-width="2.25" opacity="0.77"/>
<circle cx="560.30" cy="1298.54" r="5.85" fill="rgb(248,225,117)" stroke="#181313" stroke-width="2.25" opacity="0.77"/>
<circle cx="549.50" cy="1316.00" r="5.85" fill="rgb(248,225,117)" stroke="#181313" stroke-width="2.25" opacity="0.77"/>
<circle cx="549.50" cy="1350.92" r="5.85" fill="rgb(248,225,117)" stroke="#181313" stroke-width="2.25" opacity="0.77"/>
<circle cx="633.20" cy="1141.40" r="5.85" fill="rgb(248,225,117)" stroke="#181313" stroke-width="2.25" opacity="0.77"/>
<circle cx="633.20" cy="1158.86" r="5.85" fill="rgb(248,225,117)" stroke="#181313" stroke-width="2.25" opacity="0.77"/>
<circle cx="627.80" cy="1193.78" r="5.85" fill="rgb(248,225,117)" stroke="#181313" stroke-width="2.25" opacity="0.77"/>
<circle cx="638.60" cy="1193.78" r="5.85" fill="rgb(248,225,117)" stroke="#181313" stroke-width="2.25" opacity="0.77"/>
<circle cx="633.20" cy="1228.70" r="5.85" fill="rgb(248,225,117)" stroke="#181313" stroke-width="2.25" opacity="0.77"/>
<circle cx="622.40" cy="1246.16" r="5.85" fill="rgb(248,225,117)" stroke="#181313" stroke-width="2.25" opacity="0.77"/>
<circle cx="633.20" cy="1246.16" r="5.85" fill="rgb(248,225,117)" stroke="#181313" stroke-width="2.25" opacity="0.77"/>
<circle cx="644.00" cy="1246.16" r="5.85" fill="rgb(248,225,117)" stroke="#181313" stroke-width="2.25" opacity="0.77"/>
<circle cx="627.80" cy="1263.62" r="5.85" fill="rgb(248,225,117)" stroke="#181313" stroke-width="2.25" opacity="0.77"/>
<circle cx="638.60" cy="1263.62" r="5.85" fill="rgb(248,225,117)" stroke="#181313" stroke-width="2.25" opacity="0.77"/>
<circle cx="633.20" cy="1281.08" r="5.85" fill="rgb(248,225,117)" stroke="#181313" stroke-width="2.25" opacity="0.77"/>
<circle cx="633.20" cy="1316.00" r="5.85" fill="rgb(248,225,117)" stroke="#181313" stroke-width="2.25" opacity="0.77"/>
<circle cx="633.20" cy="1333.46" r="5.85" fill="rgb(248,225,117)" stroke="#181313" stroke-width="2.25" opacity="0.77"/>
<text transform="translate(54.50,1450.10) scale(1.0,1.04)" font-family="'Liberation Sans', sans-serif" font-size="33.5" font-weight="normal" text-anchor="start" fill="#050505">OXT</text>
<text transform="translate(30.60,1482.00) scale(1.0,1.04)" font-family="'Liberation Sans', sans-serif" font-size="27.7" font-weight="normal" text-anchor="start" fill="#050505">(<tspan font-family="'Liberation Serif', serif">μ</tspan>g/20<tspan font-family="'Liberation Serif', serif">μ</tspan>L)</text>
<text transform="translate(188.35,1450.70) scale(1.0,1.075)" font-family="'Liberation Sans', sans-serif" font-size="41.3" font-weight="bold" text-anchor="middle" fill="#050505">0</text>
<text transform="translate(271.95,1449.40) scale(1.0,1.075)" font-family="'Liberation Sans', sans-serif" font-size="41.3" font-weight="bold" text-anchor="middle" fill="#050505">0.2</text>
<text transform="translate(354.20,1448.80) scale(1.0,1.075)" font-family="'Liberation Sans', sans-serif" font-size="41.3" font-weight="bold" text-anchor="middle" fill="#050505">2</text>
<text transform="translate(468.55,1450.80) scale(1.0,1.075)" font-family="'Liberation Sans', sans-serif" font-size="41.3" font-weight="bold" text-anchor="middle" fill="#050505">0</text>
<text transform="translate(549.45,1449.80) scale(1.0,1.075)" font-family="'Liberation Sans', sans-serif" font-size="41.3" font-weight="bold" text-anchor="middle" fill="#050505">0.2</text>
<text transform="translate(634.30,1449.40) scale(1.0,1.075)" font-family="'Liberation Sans', sans-serif" font-size="41.3" font-weight="bold" text-anchor="middle" fill="#050505">2</text>
<line x1="154.40" y1="1457.20" x2="386.10" y2="1457.20" stroke="#1b1b1b" stroke-width="4.8" stroke-linecap="butt"/>
<line x1="432.70" y1="1457.10" x2="670.30" y2="1457.10" stroke="#1b1b1b" stroke-width="4.8" stroke-linecap="butt"/>
<text transform="translate(272.20,1496.80)" font-family="'Liberation Sans', sans-serif" font-size="42" font-weight="bold" text-anchor="middle" fill="#050505">VB</text>
<text transform="translate(549.65,1497.80) scale(1.0,1.05)" font-family="'Liberation Sans', sans-serif" font-size="42" font-weight="bold" text-anchor="middle" fill="#050505">CS</text>
<text transform="translate(453.00,1128.30) scale(0.914,1.0)" font-family="'DejaVu Sans', sans-serif" font-size="59.7" font-weight="bold" text-anchor="start" fill="#000" letter-spacing="0" stroke="#000" stroke-width="0.8" stroke-linejoin="miter">*</text>
<text transform="translate(850.20,1398.30) rotate(-90) scale(1.0,1.07)" font-family="'Liberation Sans', sans-serif" font-size="41.5" font-weight="normal" text-anchor="start" fill="#050505">Closed Arm Entries (n)</text>
<line x1="904.20" y1="1401.30" x2="912.40" y2="1401.30" stroke="#1b1b1b" stroke-width="4.5" stroke-linecap="butt"/>
<text transform="translate(899.05,1409.90) scale(1.0,1.06)" font-family="'Liberation Sans', sans-serif" font-size="30" font-weight="normal" text-anchor="end" fill="#050505">0</text>
<line x1="904.20" y1="1292.05" x2="912.40" y2="1292.05" stroke="#1b1b1b" stroke-width="4.5" stroke-linecap="butt"/>
<text transform="translate(899.05,1300.65) scale(1.0,1.06)" font-family="'Liberation Sans', sans-serif" font-size="30" font-weight="normal" text-anchor="end" fill="#050505">5</text>
<line x1="904.20" y1="1182.80" x2="912.40" y2="1182.80" stroke="#1b1b1b" stroke-width="4.5" stroke-linecap="butt"/>
<text transform="translate(900.65,1191.40) scale(1.0,1.06)" font-family="'Liberation Sans', sans-serif" font-size="30" font-weight="normal" text-anchor="end" fill="#050505">10</text>
<line x1="904.20" y1="1073.55" x2="912.40" y2="1073.55" stroke="#1b1b1b" stroke-width="4.5" stroke-linecap="butt"/>
<text transform="translate(900.65,1082.15) scale(1.0,1.06)" font-family="'Liberation Sans', sans-serif" font-size="30" font-weight="normal" text-anchor="end" fill="#050505">15</text>
<line x1="904.20" y1="964.30" x2="912.40" y2="964.30" stroke="#1b1b1b" stroke-width="4.5" stroke-linecap="butt"/>
<text transform="translate(900.65,972.90) scale(1.0,1.06)" font-family="'Liberation Sans', sans-serif" font-size="30" font-weight="normal" text-anchor="end" fill="#050505">20</text>
<line x1="912.40" y1="964.30" x2="912.40" y2="1401.30" stroke="#1b1b1b" stroke-width="4.6" stroke-linecap="butt"/>
<line x1="966.00" y1="1140.40" x2="966.00" y2="1151.77" stroke="#1b1b1b" stroke-width="4.8" stroke-linecap="butt"/>
<line x1="932.40" y1="1140.40" x2="999.60" y2="1140.40" stroke="#1b1b1b" stroke-width="4.6" stroke-linecap="butt"/>
<rect x="932.25" y="1151.77" width="67.50" height="249.53" fill="#87a0b0" stroke="#1b1b1b" stroke-width="4.4"/>
<line x1="1049.00" y1="1152.40" x2="1049.00" y2="1170.35" stroke="#1b1b1b" stroke-width="4.8" stroke-linecap="butt"/>
<line x1="1015.40" y1="1152.40" x2="1082.60" y2="1152.40" stroke="#1b1b1b" stroke-width="4.6" stroke-linecap="butt"/>
<rect x="1015.25" y="1170.35" width="67.50" height="230.95" fill="#87a0b0" stroke="#1b1b1b" stroke-width="4.4"/>
<line x1="1131.60" y1="1129.40" x2="1131.60" y2="1144.13" stroke="#1b1b1b" stroke-width="4.8" stroke-linecap="butt"/>
<line x1="1098.00" y1="1129.40" x2="1165.20" y2="1129.40" stroke="#1b1b1b" stroke-width="4.6" stroke-linecap="butt"/>
<rect x="1097.85" y="1144.13" width="67.50" height="257.17" fill="#87a0b0" stroke="#1b1b1b" stroke-width="4.4"/>
<line x1="1245.50" y1="1173.80" x2="1245.50" y2="1192.41" stroke="#1b1b1b" stroke-width="4.8" stroke-linecap="butt"/>
<line x1="1211.90" y1="1173.80" x2="1279.10" y2="1173.80" stroke="#1b1b1b" stroke-width="4.6" stroke-linecap="butt"/>
<rect x="1211.75" y="1192.41" width="67.50" height="208.89" fill="#f07d00" stroke="#1b1b1b" stroke-width="4.4"/>
<line x1="1326.90" y1="1136.40" x2="1326.90" y2="1153.74" stroke="#1b1b1b" stroke-width="4.8" stroke-linecap="butt"/>
<line x1="1293.30" y1="1136.40" x2="1360.50" y2="1136.40" stroke="#1b1b1b" stroke-width="4.6" stroke-linecap="butt"/>
<rect x="1293.15" y="1153.74" width="67.50" height="247.56" fill="#f07d00" stroke="#1b1b1b" stroke-width="4.4"/>
<line x1="1411.70" y1="1141.20" x2="1411.70" y2="1157.67" stroke="#1b1b1b" stroke-width="4.8" stroke-linecap="butt"/>
<line x1="1378.10" y1="1141.20" x2="1445.30" y2="1141.20" stroke="#1b1b1b" stroke-width="4.6" stroke-linecap="butt"/>
<rect x="1377.95" y="1157.67" width="67.50" height="243.63" fill="#f07d00" stroke="#1b1b1b" stroke-width="4.4"/>
<circle cx="966.00" cy="1073.55" r="5.85" fill="rgb(202,202,202)" stroke="#181313" stroke-width="2.25" opacity="0.77"/>
<circle cx="966.00" cy="1095.40" r="5.85" fill="rgb(202,202,202)" stroke="#181313" stroke-width="2.25" opacity="0.77"/>
<circle cx="966.00" cy="1117.25" r="5.85" fill="rgb(202,202,202)" stroke="#181313" stroke-width="2.25" opacity="0.77"/>
<circle cx="966.00" cy="1139.10" r="5.85" fill="rgb(202,202,202)" stroke="#181313" stroke-width="2.25" opacity="0.77"/>
<circle cx="949.88" cy="1160.95" r="5.85" fill="rgb(202,202,202)" stroke="#181313" stroke-width="2.25" opacity="0.77"/>
<circle cx="960.62" cy="1160.95" r="5.85" fill="rgb(202,202,202)" stroke="#181313" stroke-width="2.25" opacity="0.77"/>
<circle cx="971.38" cy="1160.95" r="5.85" fill="rgb(202,202,202)" stroke="#181313" stroke-width="2.25" opacity="0.77"/>
<circle cx="982.12" cy="1160.95" r="5.85" fill="rgb(202,202,202)" stroke="#181313" stroke-width="2.25" opacity="0.77"/>
<circle cx="955.25" cy="1182.80" r="5.85" fill="rgb(202,202,202)" stroke="#181313" stroke-width="2.25" opacity="0.77"/>
<circle cx="966.00" cy="1182.80" r="5.85" fill="rgb(202,202,202)" stroke="#181313" stroke-width="2.25" opacity="0.77"/>
<circle cx="976.75" cy="1182.80" r="5.85" fill="rgb(202,202,202)" stroke="#181313" stroke-width="2.25" opacity="0.77"/>
<circle cx="966.00" cy="1204.65" r="5.85" fill="rgb(202,202,202)" stroke="#181313" stroke-width="2.25" opacity="0.77"/>
<circle cx="1049.00" cy="1029.85" r="5.85" fill="rgb(202,202,202)" stroke="#181313" stroke-width="2.25" opacity="0.77"/>
<circle cx="1038.25" cy="1117.25" r="5.85" fill="rgb(202,202,202)" stroke="#181313" stroke-width="2.25" opacity="0.77"/>
<circle cx="1049.00" cy="1117.25" r="5.85" fill="rgb(202,202,202)" stroke="#181313" stroke-width="2.25" opacity="0.77"/>
<circle cx="1059.75" cy="1117.25" r="5.85" fill="rgb(202,202,202)" stroke="#181313" stroke-width="2.25" opacity="0.77"/>
<circle cx="1043.62" cy="1139.10" r="5.85" fill="rgb(202,202,202)" stroke="#181313" stroke-width="2.25" opacity="0.77"/>
<circle cx="1054.38" cy="1139.10" r="5.85" fill="rgb(202,202,202)" stroke="#181313" stroke-width="2.25" opacity="0.77"/>
<circle cx="1049.00" cy="1160.95" r="5.85" fill="rgb(202,202,202)" stroke="#181313" stroke-width="2.25" opacity="0.77"/>
<circle cx="1049.00" cy="1182.80" r="5.85" fill="rgb(202,202,202)" stroke="#181313" stroke-width="2.25" opacity="0.77"/>
<circle cx="1038.25" cy="1204.65" r="5.85" fill="rgb(202,202,202)" stroke="#181313" stroke-width="2.25" opacity="0.77"/>
<circle cx="1049.00" cy="1204.65" r="5.85" fill="rgb(202,202,202)" stroke="#181313" stroke-width="2.25" opacity="0.77"/>
<circle cx="1059.75" cy="1204.65" r="5.85" fill="rgb(202,202,202)" stroke="#181313" stroke-width="2.25" opacity="0.77"/>
<circle cx="1049.00" cy="1226.50" r="5.85" fill="rgb(202,202,202)" stroke="#181313" stroke-width="2.25" opacity="0.77"/>
<circle cx="1049.00" cy="1248.35" r="5.85" fill="rgb(202,202,202)" stroke="#181313" stroke-width="2.25" opacity="0.77"/>
<circle cx="1049.00" cy="1292.05" r="5.85" fill="rgb(202,202,202)" stroke="#181313" stroke-width="2.25" opacity="0.77"/>
<circle cx="1131.60" cy="1029.85" r="5.85" fill="rgb(202,202,202)" stroke="#181313" stroke-width="2.25" opacity="0.77"/>
<circle cx="1131.60" cy="1073.55" r="5.85" fill="rgb(202,202,202)" stroke="#181313" stroke-width="2.25" opacity="0.77"/>
<circle cx="1131.60" cy="1095.40" r="5.85" fill="rgb(202,202,202)" stroke="#181313" stroke-width="2.25" opacity="0.77"/>
<circle cx="1131.60" cy="1117.25" r="5.85" fill="rgb(202,202,202)" stroke="#181313" stroke-width="2.25" opacity="0.77"/>
<circle cx="1126.22" cy="1139.10" r="5.85" fill="rgb(202,202,202)" stroke="#181313" stroke-width="2.25" opacity="0.77"/>
<circle cx="1136.97" cy="1139.10" r="5.85" fill="rgb(202,202,202)" stroke="#181313" stroke-width="2.25" opacity="0.77"/>
<circle cx="1120.85" cy="1160.95" r="5.85" fill="rgb(202,202,202)" stroke="#181313" stroke-width="2.25" opacity="0.77"/>
<circle cx="1131.60" cy="1160.95" r="5.85" fill="rgb(202,202,202)" stroke="#181313" stroke-width="2.25" opacity="0.77"/>
<circle cx="1142.35" cy="1160.95" r="5.85" fill="rgb(202,202,202)" stroke="#181313" stroke-width="2.25" opacity="0.77"/>
<circle cx="1131.60" cy="1182.80" r="5.85" fill="rgb(202,202,202)" stroke="#181313" stroke-width="2.25" opacity="0.77"/>
<circle cx="1120.85" cy="1204.65" r="5.85" fill="rgb(202,202,202)" stroke="#181313" stroke-width="2.25" opacity="0.77"/>
<circle cx="1131.60" cy="1204.65" r="5.85" fill="rgb(202,202,202)" stroke="#181313" stroke-width="2.25" opacity="0.77"/>
<circle cx="1142.35" cy="1204.65" r="5.85" fill="rgb(202,202,202)" stroke="#181313" stroke-width="2.25" opacity="0.77"/>
<circle cx="1245.50" cy="1029.85" r="5.85" fill="rgb(248,225,117)" stroke="#181313" stroke-width="2.25" opacity="0.77"/>
<circle cx="1245.50" cy="1051.70" r="5.85" fill="rgb(248,225,117)" stroke="#181313" stroke-width="2.25" opacity="0.77"/>
<circle cx="1245.50" cy="1139.10" r="5.85" fill="rgb(248,225,117)" stroke="#181313" stroke-width="2.25" opacity="0.77"/>
<circle cx="1245.50" cy="1160.95" r="5.85" fill="rgb(248,225,117)" stroke="#181313" stroke-width="2.25" opacity="0.77"/>
<circle cx="1234.75" cy="1182.80" r="5.85" fill="rgb(248,225,117)" stroke="#181313" stroke-width="2.25" opacity="0.77"/>
<circle cx="1245.50" cy="1182.80" r="5.85" fill="rgb(248,225,117)" stroke="#181313" stroke-width="2.25" opacity="0.77"/>
<circle cx="1256.25" cy="1182.80" r="5.85" fill="rgb(248,225,117)" stroke="#181313" stroke-width="2.25" opacity="0.77"/>
<circle cx="1229.38" cy="1204.65" r="5.85" fill="rgb(248,225,117)" stroke="#181313" stroke-width="2.25" opacity="0.77"/>
<circle cx="1240.12" cy="1204.65" r="5.85" fill="rgb(248,225,117)" stroke="#181313" stroke-width="2.25" opacity="0.77"/>
<circle cx="1250.88" cy="1204.65" r="5.85" fill="rgb(248,225,117)" stroke="#181313" stroke-width="2.25" opacity="0.77"/>
<circle cx="1261.62" cy="1204.65" r="5.85" fill="rgb(248,225,117)" stroke="#181313" stroke-width="2.25" opacity="0.77"/>
<circle cx="1234.75" cy="1248.35" r="5.85" fill="rgb(248,225,117)" stroke="#181313" stroke-width="2.25" opacity="0.77"/>
<circle cx="1245.50" cy="1248.35" r="5.85" fill="rgb(248,225,117)" stroke="#181313" stroke-width="2.25" opacity="0.77"/>
<circle cx="1256.25" cy="1248.35" r="5.85" fill="rgb(248,225,117)" stroke="#181313" stroke-width="2.25" opacity="0.77"/>
<circle cx="1245.50" cy="1270.20" r="5.85" fill="rgb(248,225,117)" stroke="#181313" stroke-width="2.25" opacity="0.77"/>
<circle cx="1245.50" cy="1313.90" r="5.85" fill="rgb(248,225,117)" stroke="#181313" stroke-width="2.25" opacity="0.77"/>
<circle cx="1316.15" cy="1073.55" r="5.85" fill="rgb(248,225,117)" stroke="#181313" stroke-width="2.25" opacity="0.77"/>
<circle cx="1326.90" cy="1073.55" r="5.85" fill="rgb(248,225,117)" stroke="#181313" stroke-width="2.25" opacity="0.77"/>
<circle cx="1337.65" cy="1073.55" r="5.85" fill="rgb(248,225,117)" stroke="#181313" stroke-width="2.25" opacity="0.77"/>
<circle cx="1326.90" cy="1117.25" r="5.85" fill="rgb(248,225,117)" stroke="#181313" stroke-width="2.25" opacity="0.77"/>
<circle cx="1326.90" cy="1139.10" r="5.85" fill="rgb(248,225,117)" stroke="#181313" stroke-width="2.25" opacity="0.77"/>
<circle cx="1321.53" cy="1160.95" r="5.85" fill="rgb(248,225,117)" stroke="#181313" stroke-width="2.25" opacity="0.77"/>
<circle cx="1332.28" cy="1160.95" r="5.85" fill="rgb(248,225,117)" stroke="#181313" stroke-width="2.25" opacity="0.77"/>
<circle cx="1326.90" cy="1182.80" r="5.85" fill="rgb(248,225,117)" stroke="#181313" stroke-width="2.25" opacity="0.77"/>
<circle cx="1316.15" cy="1204.65" r="5.85" fill="rgb(248,225,117)" stroke="#181313" stroke-width="2.25" opacity="0.77"/>
<circle cx="1326.90" cy="1204.65" r="5.85" fill="rgb(248,225,117)" stroke="#181313" stroke-width="2.25" opacity="0.77"/>
<circle cx="1337.65" cy="1204.65" r="5.85" fill="rgb(248,225,117)" stroke="#181313" stroke-width="2.25" opacity="0.77"/>
<circle cx="1326.90" cy="1248.35" r="5.85" fill="rgb(248,225,117)" stroke="#181313" stroke-width="2.25" opacity="0.77"/>
<circle cx="1411.70" cy="1073.55" r="5.85" fill="rgb(248,225,117)" stroke="#181313" stroke-width="2.25" opacity="0.77"/>
<circle cx="1406.33" cy="1095.40" r="5.85" fill="rgb(248,225,117)" stroke="#181313" stroke-width="2.25" opacity="0.77"/>
<circle cx="1417.08" cy="1095.40" r="5.85" fill="rgb(248,225,117)" stroke="#181313" stroke-width="2.25" opacity="0.77"/>
<circle cx="1411.70" cy="1117.25" r="5.85" fill="rgb(248,225,117)" stroke="#181313" stroke-width="2.25" opacity="0.77"/>
<circle cx="1395.58" cy="1139.10" r="5.85" fill="rgb(248,225,117)" stroke="#181313" stroke-width="2.25" opacity="0.77"/>
<circle cx="1406.33" cy="1139.10" r="5.85" fill="rgb(248,225,117)" stroke="#181313" stroke-width="2.25" opacity="0.77"/>
<circle cx="1417.08" cy="1139.10" r="5.85" fill="rgb(248,225,117)" stroke="#181313" stroke-width="2.25" opacity="0.77"/>
<circle cx="1427.83" cy="1139.10" r="5.85" fill="rgb(248,225,117)" stroke="#181313" stroke-width="2.25" opacity="0.77"/>
<circle cx="1406.33" cy="1204.65" r="5.85" fill="rgb(248,225,117)" stroke="#181313" stroke-width="2.25" opacity="0.77"/>
<circle cx="1417.08" cy="1204.65" r="5.85" fill="rgb(248,225,117)" stroke="#181313" stroke-width="2.25" opacity="0.77"/>
<circle cx="1406.33" cy="1226.50" r="5.85" fill="rgb(248,225,117)" stroke="#181313" stroke-width="2.25" opacity="0.77"/>
<circle cx="1417.08" cy="1226.50" r="5.85" fill="rgb(248,225,117)" stroke="#181313" stroke-width="2.25" opacity="0.77"/>
<circle cx="1411.70" cy="1248.35" r="5.85" fill="rgb(248,225,117)" stroke="#181313" stroke-width="2.25" opacity="0.77"/>
<text transform="translate(831.40,1447.40) scale(1.0,1.04)" font-family="'Liberation Sans', sans-serif" font-size="33.5" font-weight="normal" text-anchor="start" fill="#050505">OXT</text>
<text transform="translate(807.20,1480.10) scale(1.0,1.04)" font-family="'Liberation Sans', sans-serif" font-size="27.7" font-weight="normal" text-anchor="start" fill="#050505">(<tspan font-family="'Liberation Serif', serif">μ</tspan>g/20<tspan font-family="'Liberation Serif', serif">μ</tspan>L)</text>
<text transform="translate(966.55,1452.00) scale(1.0,1.075)" font-family="'Liberation Sans', sans-serif" font-size="41.3" font-weight="bold" text-anchor="middle" fill="#050505">0</text>
<text transform="translate(1050.25,1451.20) scale(1.0,1.075)" font-family="'Liberation Sans', sans-serif" font-size="41.3" font-weight="bold" text-anchor="middle" fill="#050505">0.2</text>
<text transform="translate(1132.40,1449.90) scale(1.0,1.075)" font-family="'Liberation Sans', sans-serif" font-size="41.3" font-weight="bold" text-anchor="middle" fill="#050505">2</text>
<text transform="translate(1246.45,1452.60) scale(1.0,1.075)" font-family="'Liberation Sans', sans-serif" font-size="41.3" font-weight="bold" text-anchor="middle" fill="#050505">0</text>
<text transform="translate(1327.60,1451.60) scale(1.0,1.075)" font-family="'Liberation Sans', sans-serif" font-size="41.3" font-weight="bold" text-anchor="middle" fill="#050505">0.2</text>
<text transform="translate(1412.30,1450.30) scale(1.0,1.075)" font-family="'Liberation Sans', sans-serif" font-size="41.3" font-weight="bold" text-anchor="middle" fill="#050505">2</text>
<line x1="932.00" y1="1458.80" x2="1164.30" y2="1458.80" stroke="#1b1b1b" stroke-width="4.8" stroke-linecap="butt"/>
<line x1="1210.50" y1="1458.80" x2="1449.00" y2="1458.80" stroke="#1b1b1b" stroke-width="4.8" stroke-linecap="butt"/>
<text transform="translate(1050.40,1498.40)" font-family="'Liberation Sans', sans-serif" font-size="42" font-weight="bold" text-anchor="middle" fill="#050505">VB</text>
<text transform="translate(1327.60,1499.60) scale(1.0,1.05)" font-family="'Liberation Sans', sans-serif" font-size="42" font-weight="bold" text-anchor="middle" fill="#050505">CS</text>
<text transform="translate(59.50,2196.40) rotate(-90) scale(0.948,1.07)" font-family="'Liberation Sans', sans-serif" font-size="41.5" font-weight="normal" text-anchor="start" fill="#050505">Time in the Centre Zone (s)</text>
<line x1="129.10" y1="2179.70" x2="137.30" y2="2179.70" stroke="#1b1b1b" stroke-width="4.5" stroke-linecap="butt"/>
<text transform="translate(123.60,2188.30) scale(1.0,1.06)" font-family="'Liberation Sans', sans-serif" font-size="30" font-weight="normal" text-anchor="end" fill="#050505">0</text>
<line x1="129.10" y1="2091.40" x2="137.30" y2="2091.40" stroke="#1b1b1b" stroke-width="4.5" stroke-linecap="butt"/>
<text transform="translate(124.85,2100.00) scale(1.0,1.06)" font-family="'Liberation Sans', sans-serif" font-size="30" font-weight="normal" text-anchor="end" fill="#050505">50</text>
<line x1="129.10" y1="2003.10" x2="137.30" y2="2003.10" stroke="#1b1b1b" stroke-width="4.5" stroke-linecap="butt"/>
<text transform="translate(126.75,2011.70) scale(1.0,1.06)" font-family="'Liberation Sans', sans-serif" font-size="30" font-weight="normal" text-anchor="end" fill="#050505">100</text>
<line x1="129.10" y1="1914.80" x2="137.30" y2="1914.80" stroke="#1b1b1b" stroke-width="4.5" stroke-linecap="butt"/>
<text transform="translate(126.75,1923.40) scale(1.0,1.06)" font-family="'Liberation Sans', sans-serif" font-size="30" font-weight="normal" text-anchor="end" fill="#050505">150</text>
<line x1="129.10" y1="1826.50" x2="137.30" y2="1826.50" stroke="#1b1b1b" stroke-width="4.5" stroke-linecap="butt"/>
<text transform="translate(126.75,1835.10) scale(1.0,1.06)" font-family="'Liberation Sans', sans-serif" font-size="30" font-weight="normal" text-anchor="end" fill="#050505">200</text>
<line x1="129.10" y1="1738.20" x2="137.30" y2="1738.20" stroke="#1b1b1b" stroke-width="4.5" stroke-linecap="butt"/>
<text transform="translate(126.75,1746.80) scale(1.0,1.06)" font-family="'Liberation Sans', sans-serif" font-size="30" font-weight="normal" text-anchor="end" fill="#050505">250</text>
<line x1="137.30" y1="1738.20" x2="137.30" y2="2179.70" stroke="#1b1b1b" stroke-width="4.6" stroke-linecap="butt"/>
<line x1="189.60" y1="1987.90" x2="189.60" y2="1998.40" stroke="#1b1b1b" stroke-width="4.8" stroke-linecap="butt"/>
<line x1="156.00" y1="1987.90" x2="223.20" y2="1987.90" stroke="#1b1b1b" stroke-width="4.6" stroke-linecap="butt"/>
<rect x="155.75" y="1998.40" width="67.70" height="181.30" fill="#87a0b0" stroke="#1b1b1b" stroke-width="4.4"/>
<line x1="274.80" y1="2003.40" x2="274.80" y2="2023.20" stroke="#1b1b1b" stroke-width="4.8" stroke-linecap="butt"/>
<line x1="241.20" y1="2003.40" x2="308.40" y2="2003.40" stroke="#1b1b1b" stroke-width="4.6" stroke-linecap="butt"/>
<rect x="240.95" y="2023.20" width="67.70" height="156.50" fill="#87a0b0" stroke="#1b1b1b" stroke-width="4.4"/>
<line x1="357.50" y1="1993.50" x2="357.50" y2="2010.90" stroke="#1b1b1b" stroke-width="4.8" stroke-linecap="butt"/>
<line x1="323.90" y1="1993.50" x2="391.10" y2="1993.50" stroke="#1b1b1b" stroke-width="4.6" stroke-linecap="butt"/>
<rect x="323.65" y="2010.90" width="67.70" height="168.80" fill="#87a0b0" stroke="#1b1b1b" stroke-width="4.4"/>
<line x1="469.00" y1="1994.40" x2="469.00" y2="2006.40" stroke="#1b1b1b" stroke-width="4.8" stroke-linecap="butt"/>
<line x1="435.40" y1="1994.40" x2="502.60" y2="1994.40" stroke="#1b1b1b" stroke-width="4.6" stroke-linecap="butt"/>
<rect x="435.15" y="2006.40" width="67.70" height="173.30" fill="#f07d00" stroke="#1b1b1b" stroke-width="4.4"/>
<line x1="552.10" y1="1946.10" x2="552.10" y2="1959.80" stroke="#1b1b1b" stroke-width="4.8" stroke-linecap="butt"/>
<line x1="518.50" y1="1946.10" x2="585.70" y2="1946.10" stroke="#1b1b1b" stroke-width="4.6" stroke-linecap="butt"/>
<rect x="518.25" y="1959.80" width="67.70" height="219.90" fill="#f07d00" stroke="#1b1b1b" stroke-width="4.4"/>
<line x1="635.80" y1="1941.40" x2="635.80" y2="1966.70" stroke="#1b1b1b" stroke-width="4.8" stroke-linecap="butt"/>
<line x1="602.20" y1="1941.40" x2="669.40" y2="1941.40" stroke="#1b1b1b" stroke-width="4.6" stroke-linecap="butt"/>
<rect x="601.95" y="1966.70" width="67.70" height="213.00" fill="#f07d00" stroke="#1b1b1b" stroke-width="4.4"/>
<circle cx="189.30" cy="1949.10" r="5.85" fill="rgb(202,202,202)" stroke="#181313" stroke-width="2.25" opacity="0.77"/>
<circle cx="194.70" cy="1972.00" r="5.85" fill="rgb(202,202,202)" stroke="#181313" stroke-width="2.25" opacity="0.77"/>
<circle cx="181.30" cy="1975.80" r="5.85" fill="rgb(202,202,202)" stroke="#181313" stroke-width="2.25" opacity="0.77"/>
<circle cx="189.30" cy="1981.70" r="5.85" fill="rgb(202,202,202)" stroke="#181313" stroke-width="2.25" opacity="0.77"/>
<circle cx="189.30" cy="1995.40" r="5.85" fill="rgb(202,202,202)" stroke="#181313" stroke-width="2.25" opacity="0.77"/>
<circle cx="189.30" cy="2011.20" r="5.85" fill="rgb(202,202,202)" stroke="#181313" stroke-width="2.25" opacity="0.77"/>
<circle cx="194.70" cy="2023.90" r="5.85" fill="rgb(202,202,202)" stroke="#181313" stroke-width="2.25" opacity="0.77"/>
<circle cx="183.90" cy="2027.10" r="5.85" fill="rgb(202,202,202)" stroke="#181313" stroke-width="2.25" opacity="0.77"/>
<circle cx="189.30" cy="2048.50" r="5.85" fill="rgb(202,202,202)" stroke="#181313" stroke-width="2.25" opacity="0.77"/>
<circle cx="274.40" cy="1852.50" r="5.85" fill="rgb(202,202,202)" stroke="#181313" stroke-width="2.25" opacity="0.77"/>
<circle cx="274.50" cy="1981.40" r="5.85" fill="rgb(202,202,202)" stroke="#181313" stroke-width="2.25" opacity="0.77"/>
<circle cx="279.70" cy="2008.80" r="5.85" fill="rgb(202,202,202)" stroke="#181313" stroke-width="2.25" opacity="0.77"/>
<circle cx="268.90" cy="2015.90" r="5.85" fill="rgb(202,202,202)" stroke="#181313" stroke-width="2.25" opacity="0.77"/>
<circle cx="268.90" cy="2028.90" r="5.85" fill="rgb(202,202,202)" stroke="#181313" stroke-width="2.25" opacity="0.77"/>
<circle cx="279.70" cy="2028.40" r="5.85" fill="rgb(202,202,202)" stroke="#181313" stroke-width="2.25" opacity="0.77"/>
<circle cx="274.50" cy="2051.30" r="5.85" fill="rgb(202,202,202)" stroke="#181313" stroke-width="2.25" opacity="0.77"/>
<circle cx="266.10" cy="2058.40" r="5.85" fill="rgb(202,202,202)" stroke="#181313" stroke-width="2.25" opacity="0.77"/>
<circle cx="282.50" cy="2062.50" r="5.85" fill="rgb(202,202,202)" stroke="#181313" stroke-width="2.25" opacity="0.77"/>
<circle cx="274.50" cy="2070.30" r="5.85" fill="rgb(202,202,202)" stroke="#181313" stroke-width="2.25" opacity="0.77"/>
<circle cx="274.50" cy="2097.30" r="5.85" fill="rgb(202,202,202)" stroke="#181313" stroke-width="2.25" opacity="0.77"/>
<circle cx="357.30" cy="1931.60" r="5.85" fill="rgb(202,202,202)" stroke="#181313" stroke-width="2.25" opacity="0.77"/>
<circle cx="357.30" cy="1953.40" r="5.85" fill="rgb(202,202,202)" stroke="#181313" stroke-width="2.25" opacity="0.77"/>
<circle cx="349.10" cy="1962.30" r="5.85" fill="rgb(202,202,202)" stroke="#181313" stroke-width="2.25" opacity="0.77"/>
<circle cx="365.50" cy="1961.40" r="5.85" fill="rgb(202,202,202)" stroke="#181313" stroke-width="2.25" opacity="0.77"/>
<circle cx="357.30" cy="1970.20" r="5.85" fill="rgb(202,202,202)" stroke="#181313" stroke-width="2.25" opacity="0.77"/>
<circle cx="351.90" cy="1985.10" r="5.85" fill="rgb(202,202,202)" stroke="#181313" stroke-width="2.25" opacity="0.77"/>
<circle cx="363.10" cy="1986.60" r="5.85" fill="rgb(202,202,202)" stroke="#181313" stroke-width="2.25" opacity="0.77"/>
<circle cx="357.30" cy="2006.00" r="5.85" fill="rgb(202,202,202)" stroke="#181313" stroke-width="2.25" opacity="0.77"/>
<circle cx="357.30" cy="2022.00" r="5.85" fill="rgb(202,202,202)" stroke="#181313" stroke-width="2.25" opacity="0.77"/>
<circle cx="357.30" cy="2051.90" r="5.85" fill="rgb(202,202,202)" stroke="#181313" stroke-width="2.25" opacity="0.77"/>
<circle cx="357.30" cy="2072.70" r="5.85" fill="rgb(202,202,202)" stroke="#181313" stroke-width="2.25" opacity="0.77"/>
<circle cx="363.10" cy="2114.30" r="5.85" fill="rgb(202,202,202)" stroke="#181313" stroke-width="2.25" opacity="0.77"/>
<circle cx="351.90" cy="2120.30" r="5.85" fill="rgb(202,202,202)" stroke="#181313" stroke-width="2.25" opacity="0.77"/>
<circle cx="468.90" cy="1905.80" r="5.85" fill="rgb(248,225,117)" stroke="#181313" stroke-width="2.25" opacity="0.77"/>
<circle cx="468.90" cy="1958.00" r="5.85" fill="rgb(248,225,117)" stroke="#181313" stroke-width="2.25" opacity="0.77"/>
<circle cx="466.10" cy="1976.30" r="5.85" fill="rgb(248,225,117)" stroke="#181313" stroke-width="2.25" opacity="0.77"/>
<circle cx="477.10" cy="1977.20" r="5.85" fill="rgb(248,225,117)" stroke="#181313" stroke-width="2.25" opacity="0.77"/>
<circle cx="460.60" cy="1984.70" r="5.85" fill="rgb(248,225,117)" stroke="#181313" stroke-width="2.25" opacity="0.77"/>
<circle cx="474.30" cy="1989.90" r="5.85" fill="rgb(248,225,117)" stroke="#181313" stroke-width="2.25" opacity="0.77"/>
<circle cx="463.40" cy="1998.10" r="5.85" fill="rgb(248,225,117)" stroke="#181313" stroke-width="2.25" opacity="0.77"/>
<circle cx="474.30" cy="2006.50" r="5.85" fill="rgb(248,225,117)" stroke="#181313" stroke-width="2.25" opacity="0.77"/>
<circle cx="466.10" cy="2030.40" r="5.85" fill="rgb(248,225,117)" stroke="#181313" stroke-width="2.25" opacity="0.77"/>
<circle cx="474.30" cy="2041.00" r="5.85" fill="rgb(248,225,117)" stroke="#181313" stroke-width="2.25" opacity="0.77"/>
<circle cx="468.90" cy="2049.00" r="5.85" fill="rgb(248,225,117)" stroke="#181313" stroke-width="2.25" opacity="0.77"/>
<circle cx="460.60" cy="2050.50" r="5.85" fill="rgb(248,225,117)" stroke="#181313" stroke-width="2.25" opacity="0.77"/>
<circle cx="477.10" cy="2051.80" r="5.85" fill="rgb(248,225,117)" stroke="#181313" stroke-width="2.25" opacity="0.77"/>
<circle cx="468.90" cy="2063.90" r="5.85" fill="rgb(248,225,117)" stroke="#181313" stroke-width="2.25" opacity="0.77"/>
<circle cx="551.60" cy="1882.10" r="5.85" fill="rgb(248,225,117)" stroke="#181313" stroke-width="2.25" opacity="0.77"/>
<circle cx="551.60" cy="1894.30" r="5.85" fill="rgb(248,225,117)" stroke="#181313" stroke-width="2.25" opacity="0.77"/>
<circle cx="551.60" cy="1911.40" r="5.85" fill="rgb(248,225,117)" stroke="#181313" stroke-width="2.25" opacity="0.77"/>
<circle cx="551.60" cy="1925.00" r="5.85" fill="rgb(248,225,117)" stroke="#181313" stroke-width="2.25" opacity="0.77"/>
<circle cx="551.60" cy="1946.10" r="5.85" fill="rgb(248,225,117)" stroke="#181313" stroke-width="2.25" opacity="0.77"/>
<circle cx="546.20" cy="1967.30" r="5.85" fill="rgb(248,225,117)" stroke="#181313" stroke-width="2.25" opacity="0.77"/>
<circle cx="557.10" cy="1972.00" r="5.85" fill="rgb(248,225,117)" stroke="#181313" stroke-width="2.25" opacity="0.77"/>
<circle cx="551.60" cy="1989.00" r="5.85" fill="rgb(248,225,117)" stroke="#181313" stroke-width="2.25" opacity="0.77"/>
<circle cx="543.40" cy="2002.80" r="5.85" fill="rgb(248,225,117)" stroke="#181313" stroke-width="2.25" opacity="0.77"/>
<circle cx="551.60" cy="1999.20" r="5.85" fill="rgb(248,225,117)" stroke="#181313" stroke-width="2.25" opacity="0.77"/>
<circle cx="559.80" cy="2007.60" r="5.85" fill="rgb(248,225,117)" stroke="#181313" stroke-width="2.25" opacity="0.77"/>
<circle cx="551.60" cy="2019.70" r="5.85" fill="rgb(248,225,117)" stroke="#181313" stroke-width="2.25" opacity="0.77"/>
<circle cx="635.60" cy="1784.60" r="5.85" fill="rgb(248,225,117)" stroke="#181313" stroke-width="2.25" opacity="0.77"/>
<circle cx="635.60" cy="1826.80" r="5.85" fill="rgb(248,225,117)" stroke="#181313" stroke-width="2.25" opacity="0.77"/>
<circle cx="635.60" cy="1902.80" r="5.85" fill="rgb(248,225,117)" stroke="#181313" stroke-width="2.25" opacity="0.77"/>
<circle cx="635.60" cy="1962.70" r="5.85" fill="rgb(248,225,117)" stroke="#181313" stroke-width="2.25" opacity="0.77"/>
<circle cx="627.30" cy="1971.60" r="5.85" fill="rgb(248,225,117)" stroke="#181313" stroke-width="2.25" opacity="0.77"/>
<circle cx="646.40" cy="1969.40" r="5.85" fill="rgb(248,225,117)" stroke="#181313" stroke-width="2.25" opacity="0.77"/>
<circle cx="632.80" cy="2009.30" r="5.85" fill="rgb(248,225,117)" stroke="#181313" stroke-width="2.25" opacity="0.77"/>
<circle cx="641.00" cy="2018.30" r="5.85" fill="rgb(248,225,117)" stroke="#181313" stroke-width="2.25" opacity="0.77"/>
<circle cx="627.30" cy="2022.00" r="5.85" fill="rgb(248,225,117)" stroke="#181313" stroke-width="2.25" opacity="0.77"/>
<circle cx="641.00" cy="2027.60" r="5.85" fill="rgb(248,225,117)" stroke="#181313" stroke-width="2.25" opacity="0.77"/>
<circle cx="635.60" cy="2040.10" r="5.85" fill="rgb(248,225,117)" stroke="#181313" stroke-width="2.25" opacity="0.77"/>
<circle cx="635.60" cy="2060.20" r="5.85" fill="rgb(248,225,117)" stroke="#181313" stroke-width="2.25" opacity="0.77"/>
<text transform="translate(53.20,2224.70) scale(1.0,1.04)" font-family="'Liberation Sans', sans-serif" font-size="33.5" font-weight="normal" text-anchor="start" fill="#050505">OXT</text>
<text transform="translate(29.00,2257.20) scale(1.0,1.04)" font-family="'Liberation Sans', sans-serif" font-size="27.7" font-weight="normal" text-anchor="start" fill="#050505">(<tspan font-family="'Liberation Serif', serif">μ</tspan>g/20<tspan font-family="'Liberation Serif', serif">μ</tspan>L)</text>
<text transform="translate(191.00,2228.50) scale(1.0,1.075)" font-family="'Liberation Sans', sans-serif" font-size="41.3" font-weight="bold" text-anchor="middle" fill="#050505">0</text>
<text transform="translate(275.05,2228.00) scale(1.0,1.075)" font-family="'Liberation Sans', sans-serif" font-size="41.3" font-weight="bold" text-anchor="middle" fill="#050505">0.2</text>
<text transform="translate(357.20,2226.70) scale(1.0,1.075)" font-family="'Liberation Sans', sans-serif" font-size="41.3" font-weight="bold" text-anchor="middle" fill="#050505">2</text>
<text transform="translate(471.65,2229.10) scale(1.0,1.075)" font-family="'Liberation Sans', sans-serif" font-size="41.3" font-weight="bold" text-anchor="middle" fill="#050505">0</text>
<text transform="translate(552.35,2228.10) scale(1.0,1.075)" font-family="'Liberation Sans', sans-serif" font-size="41.3" font-weight="bold" text-anchor="middle" fill="#050505">0.2</text>
<text transform="translate(637.20,2227.40) scale(1.0,1.075)" font-family="'Liberation Sans', sans-serif" font-size="41.3" font-weight="bold" text-anchor="middle" fill="#050505">2</text>
<line x1="157.80" y1="2235.20" x2="389.50" y2="2235.20" stroke="#1b1b1b" stroke-width="4.8" stroke-linecap="butt"/>
<line x1="435.60" y1="2235.70" x2="673.00" y2="2235.70" stroke="#1b1b1b" stroke-width="4.8" stroke-linecap="butt"/>
<text transform="translate(275.20,2275.50)" font-family="'Liberation Sans', sans-serif" font-size="42" font-weight="bold" text-anchor="middle" fill="#050505">VB</text>
<text transform="translate(552.35,2276.30) scale(1.0,1.05)" font-family="'Liberation Sans', sans-serif" font-size="42" font-weight="bold" text-anchor="middle" fill="#050505">CS</text>
<text transform="translate(839.80,2190.60) rotate(-90) scale(1.005,1.07)" font-family="'Liberation Sans', sans-serif" font-size="41.5" font-weight="normal" text-anchor="start" fill="#050505">Locomotion (distance, m)</text>
<line x1="903.80" y1="2179.30" x2="912.00" y2="2179.30" stroke="#1b1b1b" stroke-width="4.5" stroke-linecap="butt"/>
<text transform="translate(900.75,2187.90) scale(1.0,1.06)" font-family="'Liberation Sans', sans-serif" font-size="30" font-weight="normal" text-anchor="end" fill="#050505">0.0</text>
<line x1="903.80" y1="2090.90" x2="912.00" y2="2090.90" stroke="#1b1b1b" stroke-width="4.5" stroke-linecap="butt"/>
<text transform="translate(900.75,2099.50) scale(1.0,1.06)" font-family="'Liberation Sans', sans-serif" font-size="30" font-weight="normal" text-anchor="end" fill="#050505">1.0</text>
<line x1="903.80" y1="2002.50" x2="912.00" y2="2002.50" stroke="#1b1b1b" stroke-width="4.5" stroke-linecap="butt"/>
<text transform="translate(900.75,2011.10) scale(1.0,1.06)" font-family="'Liberation Sans', sans-serif" font-size="30" font-weight="normal" text-anchor="end" fill="#050505">2.0</text>
<line x1="903.80" y1="1914.10" x2="912.00" y2="1914.10" stroke="#1b1b1b" stroke-width="4.5" stroke-linecap="butt"/>
<text transform="translate(900.75,1922.70) scale(1.0,1.06)" font-family="'Liberation Sans', sans-serif" font-size="30" font-weight="normal" text-anchor="end" fill="#050505">3.0</text>
<line x1="903.80" y1="1825.70" x2="912.00" y2="1825.70" stroke="#1b1b1b" stroke-width="4.5" stroke-linecap="butt"/>
<text transform="translate(900.75,1834.30) scale(1.0,1.06)" font-family="'Liberation Sans', sans-serif" font-size="30" font-weight="normal" text-anchor="end" fill="#050505">4.0</text>
<line x1="903.80" y1="1737.30" x2="912.00" y2="1737.30" stroke="#1b1b1b" stroke-width="4.5" stroke-linecap="butt"/>
<text transform="translate(900.75,1745.90) scale(1.0,1.06)" font-family="'Liberation Sans', sans-serif" font-size="30" font-weight="normal" text-anchor="end" fill="#050505">5.0</text>
<line x1="904.00" y1="2135.10" x2="912.00" y2="2135.10" stroke="#1b1b1b" stroke-width="4.4" stroke-linecap="butt"/>
<line x1="904.00" y1="2046.70" x2="912.00" y2="2046.70" stroke="#1b1b1b" stroke-width="4.4" stroke-linecap="butt"/>
<line x1="904.00" y1="1958.30" x2="912.00" y2="1958.30" stroke="#1b1b1b" stroke-width="4.4" stroke-linecap="butt"/>
<line x1="904.00" y1="1869.90" x2="912.00" y2="1869.90" stroke="#1b1b1b" stroke-width="4.4" stroke-linecap="butt"/>
<line x1="904.00" y1="1781.50" x2="912.00" y2="1781.50" stroke="#1b1b1b" stroke-width="4.4" stroke-linecap="butt"/>
<line x1="912.00" y1="1737.30" x2="912.00" y2="2179.30" stroke="#1b1b1b" stroke-width="4.6" stroke-linecap="butt"/>
<line x1="962.90" y1="1838.80" x2="962.90" y2="1853.40" stroke="#1b1b1b" stroke-width="4.8" stroke-linecap="butt"/>
<line x1="929.30" y1="1838.80" x2="996.50" y2="1838.80" stroke="#1b1b1b" stroke-width="4.6" stroke-linecap="butt"/>
<rect x="929.15" y="1853.40" width="67.50" height="325.90" fill="#87a0b0" stroke="#1b1b1b" stroke-width="4.4"/>
<line x1="1045.60" y1="1928.30" x2="1045.60" y2="1941.80" stroke="#1b1b1b" stroke-width="4.8" stroke-linecap="butt"/>
<line x1="1012.00" y1="1928.30" x2="1079.20" y2="1928.30" stroke="#1b1b1b" stroke-width="4.6" stroke-linecap="butt"/>
<rect x="1011.85" y="1941.80" width="67.50" height="237.50" fill="#87a0b0" stroke="#1b1b1b" stroke-width="4.4"/>
<line x1="1128.40" y1="1914.60" x2="1128.40" y2="1929.70" stroke="#1b1b1b" stroke-width="4.8" stroke-linecap="butt"/>
<line x1="1094.80" y1="1914.60" x2="1162.00" y2="1914.60" stroke="#1b1b1b" stroke-width="4.6" stroke-linecap="butt"/>
<rect x="1094.65" y="1929.70" width="67.50" height="249.60" fill="#87a0b0" stroke="#1b1b1b" stroke-width="4.4"/>
<line x1="1239.10" y1="1948.70" x2="1239.10" y2="1964.30" stroke="#1b1b1b" stroke-width="4.8" stroke-linecap="butt"/>
<line x1="1205.50" y1="1948.70" x2="1272.70" y2="1948.70" stroke="#1b1b1b" stroke-width="4.6" stroke-linecap="butt"/>
<rect x="1205.35" y="1964.30" width="67.50" height="215.00" fill="#f07d00" stroke="#1b1b1b" stroke-width="4.4"/>
<line x1="1322.20" y1="1925.10" x2="1322.20" y2="1940.60" stroke="#1b1b1b" stroke-width="4.8" stroke-linecap="butt"/>
<line x1="1288.60" y1="1925.10" x2="1355.80" y2="1925.10" stroke="#1b1b1b" stroke-width="4.6" stroke-linecap="butt"/>
<rect x="1288.45" y="1940.60" width="67.50" height="238.70" fill="#f07d00" stroke="#1b1b1b" stroke-width="4.4"/>
<line x1="1410.40" y1="1915.70" x2="1410.40" y2="1933.00" stroke="#1b1b1b" stroke-width="4.8" stroke-linecap="butt"/>
<line x1="1376.80" y1="1915.70" x2="1444.00" y2="1915.70" stroke="#1b1b1b" stroke-width="4.6" stroke-linecap="butt"/>
<rect x="1374.05" y="1933.00" width="67.50" height="246.30" fill="#f07d00" stroke="#1b1b1b" stroke-width="4.4"/>
<circle cx="962.80" cy="1776.80" r="5.85" fill="rgb(202,202,202)" stroke="#181313" stroke-width="2.25" opacity="0.77"/>
<circle cx="962.80" cy="1800.00" r="5.85" fill="rgb(202,202,202)" stroke="#181313" stroke-width="2.25" opacity="0.77"/>
<circle cx="962.80" cy="1819.40" r="5.85" fill="rgb(202,202,202)" stroke="#181313" stroke-width="2.25" opacity="0.77"/>
<circle cx="962.80" cy="1855.20" r="5.85" fill="rgb(202,202,202)" stroke="#181313" stroke-width="2.25" opacity="0.77"/>
<circle cx="957.10" cy="1874.50" r="5.85" fill="rgb(202,202,202)" stroke="#181313" stroke-width="2.25" opacity="0.77"/>
<circle cx="968.50" cy="1874.50" r="5.85" fill="rgb(202,202,202)" stroke="#181313" stroke-width="2.25" opacity="0.77"/>
<circle cx="951.60" cy="1884.30" r="5.85" fill="rgb(202,202,202)" stroke="#181313" stroke-width="2.25" opacity="0.77"/>
<circle cx="973.70" cy="1883.20" r="5.85" fill="rgb(202,202,202)" stroke="#181313" stroke-width="2.25" opacity="0.77"/>
<circle cx="962.80" cy="1916.20" r="5.85" fill="rgb(202,202,202)" stroke="#181313" stroke-width="2.25" opacity="0.77"/>
<circle cx="1045.50" cy="1858.80" r="5.85" fill="rgb(202,202,202)" stroke="#181313" stroke-width="2.25" opacity="0.77"/>
<circle cx="1045.50" cy="1895.70" r="5.85" fill="rgb(202,202,202)" stroke="#181313" stroke-width="2.25" opacity="0.77"/>
<circle cx="1045.50" cy="1914.00" r="5.85" fill="rgb(202,202,202)" stroke="#181313" stroke-width="2.25" opacity="0.77"/>
<circle cx="1037.30" cy="1925.80" r="5.85" fill="rgb(202,202,202)" stroke="#181313" stroke-width="2.25" opacity="0.77"/>
<circle cx="1053.50" cy="1925.40" r="5.85" fill="rgb(202,202,202)" stroke="#181313" stroke-width="2.25" opacity="0.77"/>
<circle cx="1045.50" cy="1935.20" r="5.85" fill="rgb(202,202,202)" stroke="#181313" stroke-width="2.25" opacity="0.77"/>
<circle cx="1045.50" cy="1953.80" r="5.85" fill="rgb(202,202,202)" stroke="#181313" stroke-width="2.25" opacity="0.77"/>
<circle cx="1045.50" cy="1961.40" r="5.85" fill="rgb(202,202,202)" stroke="#181313" stroke-width="2.25" opacity="0.77"/>
<circle cx="1045.50" cy="1973.20" r="5.85" fill="rgb(202,202,202)" stroke="#181313" stroke-width="2.25" opacity="0.77"/>
<circle cx="1039.80" cy="2010.40" r="5.85" fill="rgb(202,202,202)" stroke="#181313" stroke-width="2.25" opacity="0.77"/>
<circle cx="1051.00" cy="2008.10" r="5.85" fill="rgb(202,202,202)" stroke="#181313" stroke-width="2.25" opacity="0.77"/>
<circle cx="1128.30" cy="1845.10" r="5.85" fill="rgb(202,202,202)" stroke="#181313" stroke-width="2.25" opacity="0.77"/>
<circle cx="1128.30" cy="1860.60" r="5.85" fill="rgb(202,202,202)" stroke="#181313" stroke-width="2.25" opacity="0.77"/>
<circle cx="1123.00" cy="1871.80" r="5.85" fill="rgb(202,202,202)" stroke="#181313" stroke-width="2.25" opacity="0.77"/>
<circle cx="1133.70" cy="1878.60" r="5.85" fill="rgb(202,202,202)" stroke="#181313" stroke-width="2.25" opacity="0.77"/>
<circle cx="1133.70" cy="1907.80" r="5.85" fill="rgb(202,202,202)" stroke="#181313" stroke-width="2.25" opacity="0.77"/>
<circle cx="1124.20" cy="1916.20" r="5.85" fill="rgb(202,202,202)" stroke="#181313" stroke-width="2.25" opacity="0.77"/>
<circle cx="1123.00" cy="1937.40" r="5.85" fill="rgb(202,202,202)" stroke="#181313" stroke-width="2.25" opacity="0.77"/>
<circle cx="1134.90" cy="1940.90" r="5.85" fill="rgb(202,202,202)" stroke="#181313" stroke-width="2.25" opacity="0.77"/>
<circle cx="1128.30" cy="1953.20" r="5.85" fill="rgb(202,202,202)" stroke="#181313" stroke-width="2.25" opacity="0.77"/>
<circle cx="1128.30" cy="1972.50" r="5.85" fill="rgb(202,202,202)" stroke="#181313" stroke-width="2.25" opacity="0.77"/>
<circle cx="1128.30" cy="1981.20" r="5.85" fill="rgb(202,202,202)" stroke="#181313" stroke-width="2.25" opacity="0.77"/>
<circle cx="1123.50" cy="2013.10" r="5.85" fill="rgb(202,202,202)" stroke="#181313" stroke-width="2.25" opacity="0.77"/>
<circle cx="1134.90" cy="2014.70" r="5.85" fill="rgb(202,202,202)" stroke="#181313" stroke-width="2.25" opacity="0.77"/>
<circle cx="1239.10" cy="1870.20" r="5.85" fill="rgb(248,225,117)" stroke="#181313" stroke-width="2.25" opacity="0.77"/>
<circle cx="1239.10" cy="1888.80" r="5.85" fill="rgb(248,225,117)" stroke="#181313" stroke-width="2.25" opacity="0.77"/>
<circle cx="1244.50" cy="1901.10" r="5.85" fill="rgb(248,225,117)" stroke="#181313" stroke-width="2.25" opacity="0.77"/>
<circle cx="1233.50" cy="1908.80" r="5.85" fill="rgb(248,225,117)" stroke="#181313" stroke-width="2.25" opacity="0.77"/>
<circle cx="1239.10" cy="1928.00" r="5.85" fill="rgb(248,225,117)" stroke="#181313" stroke-width="2.25" opacity="0.77"/>
<circle cx="1233.50" cy="1961.00" r="5.85" fill="rgb(248,225,117)" stroke="#181313" stroke-width="2.25" opacity="0.77"/>
<circle cx="1244.50" cy="1958.30" r="5.85" fill="rgb(248,225,117)" stroke="#181313" stroke-width="2.25" opacity="0.77"/>
<circle cx="1239.10" cy="1973.10" r="5.85" fill="rgb(248,225,117)" stroke="#181313" stroke-width="2.25" opacity="0.77"/>
<circle cx="1228.20" cy="1997.50" r="5.85" fill="rgb(248,225,117)" stroke="#181313" stroke-width="2.25" opacity="0.77"/>
<circle cx="1239.10" cy="1994.20" r="5.85" fill="rgb(248,225,117)" stroke="#181313" stroke-width="2.25" opacity="0.77"/>
<circle cx="1247.20" cy="2000.40" r="5.85" fill="rgb(248,225,117)" stroke="#181313" stroke-width="2.25" opacity="0.77"/>
<circle cx="1239.10" cy="2010.10" r="5.85" fill="rgb(248,225,117)" stroke="#181313" stroke-width="2.25" opacity="0.77"/>
<circle cx="1239.10" cy="2037.80" r="5.85" fill="rgb(248,225,117)" stroke="#181313" stroke-width="2.25" opacity="0.77"/>
<circle cx="1239.10" cy="2069.80" r="5.85" fill="rgb(248,225,117)" stroke="#181313" stroke-width="2.25" opacity="0.77"/>
<circle cx="1322.20" cy="1849.30" r="5.85" fill="rgb(248,225,117)" stroke="#181313" stroke-width="2.25" opacity="0.77"/>
<circle cx="1322.20" cy="1873.80" r="5.85" fill="rgb(248,225,117)" stroke="#181313" stroke-width="2.25" opacity="0.77"/>
<circle cx="1322.20" cy="1892.10" r="5.85" fill="rgb(248,225,117)" stroke="#181313" stroke-width="2.25" opacity="0.77"/>
<circle cx="1327.60" cy="1913.60" r="5.85" fill="rgb(248,225,117)" stroke="#181313" stroke-width="2.25" opacity="0.77"/>
<circle cx="1317.10" cy="1922.80" r="5.85" fill="rgb(248,225,117)" stroke="#181313" stroke-width="2.25" opacity="0.77"/>
<circle cx="1327.60" cy="1938.90" r="5.85" fill="rgb(248,225,117)" stroke="#181313" stroke-width="2.25" opacity="0.77"/>
<circle cx="1317.10" cy="1945.60" r="5.85" fill="rgb(248,225,117)" stroke="#181313" stroke-width="2.25" opacity="0.77"/>
<circle cx="1322.20" cy="1964.50" r="5.85" fill="rgb(248,225,117)" stroke="#181313" stroke-width="2.25" opacity="0.77"/>
<circle cx="1327.60" cy="1974.80" r="5.85" fill="rgb(248,225,117)" stroke="#181313" stroke-width="2.25" opacity="0.77"/>
<circle cx="1317.10" cy="1980.80" r="5.85" fill="rgb(248,225,117)" stroke="#181313" stroke-width="2.25" opacity="0.77"/>
<circle cx="1322.20" cy="1991.30" r="5.85" fill="rgb(248,225,117)" stroke="#181313" stroke-width="2.25" opacity="0.77"/>
<circle cx="1322.20" cy="2033.80" r="5.85" fill="rgb(248,225,117)" stroke="#181313" stroke-width="2.25" opacity="0.77"/>
<circle cx="1407.50" cy="1789.40" r="5.85" fill="rgb(248,225,117)" stroke="#181313" stroke-width="2.25" opacity="0.77"/>
<circle cx="1407.50" cy="1860.60" r="5.85" fill="rgb(248,225,117)" stroke="#181313" stroke-width="2.25" opacity="0.77"/>
<circle cx="1402.10" cy="1923.20" r="5.85" fill="rgb(248,225,117)" stroke="#181313" stroke-width="2.25" opacity="0.77"/>
<circle cx="1413.00" cy="1923.60" r="5.85" fill="rgb(248,225,117)" stroke="#181313" stroke-width="2.25" opacity="0.77"/>
<circle cx="1418.20" cy="1935.30" r="5.85" fill="rgb(248,225,117)" stroke="#181313" stroke-width="2.25" opacity="0.77"/>
<circle cx="1396.70" cy="1938.50" r="5.85" fill="rgb(248,225,117)" stroke="#181313" stroke-width="2.25" opacity="0.77"/>
<circle cx="1418.20" cy="1948.50" r="5.85" fill="rgb(248,225,117)" stroke="#181313" stroke-width="2.25" opacity="0.77"/>
<circle cx="1396.70" cy="1954.30" r="5.85" fill="rgb(248,225,117)" stroke="#181313" stroke-width="2.25" opacity="0.77"/>
<circle cx="1413.00" cy="1956.80" r="5.85" fill="rgb(248,225,117)" stroke="#181313" stroke-width="2.25" opacity="0.77"/>
<circle cx="1404.80" cy="1959.70" r="5.85" fill="rgb(248,225,117)" stroke="#181313" stroke-width="2.25" opacity="0.77"/>
<circle cx="1407.50" cy="1984.60" r="5.85" fill="rgb(248,225,117)" stroke="#181313" stroke-width="2.25" opacity="0.77"/>
<circle cx="1407.50" cy="2019.70" r="5.85" fill="rgb(248,225,117)" stroke="#181313" stroke-width="2.25" opacity="0.77"/>
<text transform="translate(831.40,2225.80) scale(1.0,1.04)" font-family="'Liberation Sans', sans-serif" font-size="33.5" font-weight="normal" text-anchor="start" fill="#050505">OXT</text>
<text transform="translate(807.20,2258.00) scale(1.0,1.04)" font-family="'Liberation Sans', sans-serif" font-size="27.7" font-weight="normal" text-anchor="start" fill="#050505">(<tspan font-family="'Liberation Serif', serif">μ</tspan>g/20<tspan font-family="'Liberation Serif', serif">μ</tspan>L)</text>
<text transform="translate(962.70,2227.20) scale(1.0,1.075)" font-family="'Liberation Sans', sans-serif" font-size="41.3" font-weight="bold" text-anchor="middle" fill="#050505">0</text>
<text transform="translate(1046.40,2226.70) scale(1.0,1.075)" font-family="'Liberation Sans', sans-serif" font-size="41.3" font-weight="bold" text-anchor="middle" fill="#050505">0.2</text>
<text transform="translate(1128.30,2225.40) scale(1.0,1.075)" font-family="'Liberation Sans', sans-serif" font-size="41.3" font-weight="bold" text-anchor="middle" fill="#050505">2</text>
<text transform="translate(1242.50,2227.60) scale(1.0,1.075)" font-family="'Liberation Sans', sans-serif" font-size="41.3" font-weight="bold" text-anchor="middle" fill="#050505">0</text>
<text transform="translate(1323.40,2226.30) scale(1.0,1.075)" font-family="'Liberation Sans', sans-serif" font-size="41.3" font-weight="bold" text-anchor="middle" fill="#050505">0.2</text>
<text transform="translate(1408.00,2225.40) scale(1.0,1.075)" font-family="'Liberation Sans', sans-serif" font-size="41.3" font-weight="bold" text-anchor="middle" fill="#050505">2</text>
<line x1="928.10" y1="2233.90" x2="1160.10" y2="2233.90" stroke="#1b1b1b" stroke-width="4.8" stroke-linecap="butt"/>
<line x1="1206.80" y1="2233.80" x2="1444.10" y2="2233.80" stroke="#1b1b1b" stroke-width="4.8" stroke-linecap="butt"/>
<text transform="translate(1046.40,2273.60)" font-family="'Liberation Sans', sans-serif" font-size="42" font-weight="bold" text-anchor="middle" fill="#050505">VB</text>
<text transform="translate(1323.40,2274.30) scale(1.0,1.05)" font-family="'Liberation Sans', sans-serif" font-size="42" font-weight="bold" text-anchor="middle" fill="#050505">CS</text>
<text transform="translate(1024.30,1821.40) scale(0.94,1.0)" font-family="'Liberation Sans', sans-serif" font-size="44.5" font-weight="bold" text-anchor="start" fill="#000" letter-spacing="5.2" stroke="#000" stroke-width="1.2" stroke-linejoin="miter">##</text>
<text transform="translate(1106.90,1820.10) scale(0.94,1.0)" font-family="'Liberation Sans', sans-serif" font-size="44.5" font-weight="bold" text-anchor="start" fill="#000" letter-spacing="5.2" stroke="#000" stroke-width="1.2" stroke-linejoin="miter">##</text>
<text transform="translate(1200.40,1863.50) scale(0.886,1.0)" font-family="'DejaVu Sans', sans-serif" font-size="54.4" font-weight="bold" text-anchor="start" fill="#000" letter-spacing="2.81" stroke="#000" stroke-width="0.8" stroke-linejoin="miter">***</text>
</svg>
</body></html>
